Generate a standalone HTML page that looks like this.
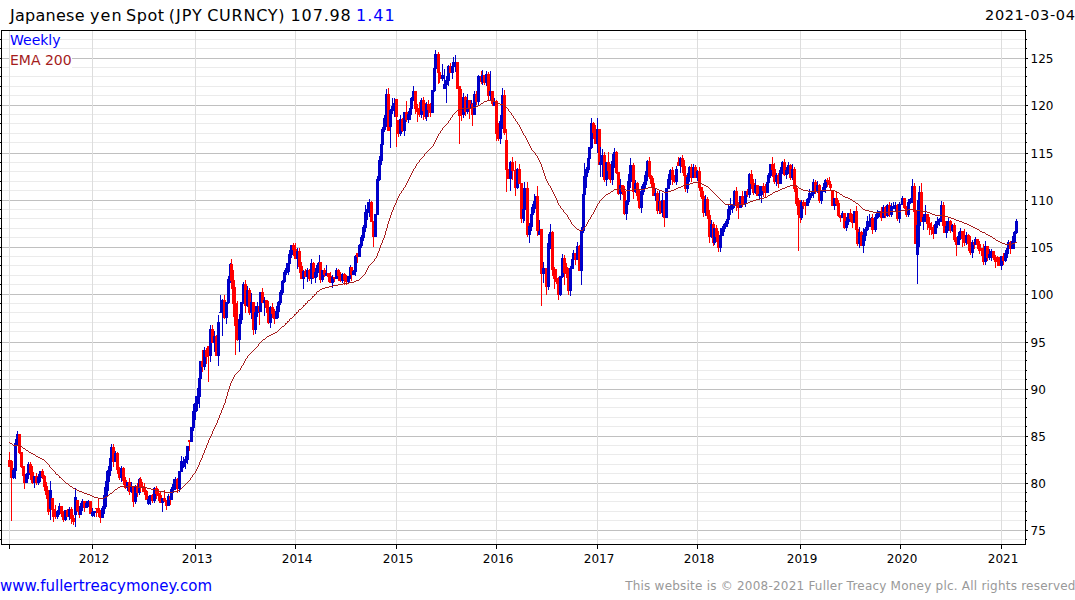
<!DOCTYPE html>
<html><head><meta charset="utf-8"><title>Japanese yen Spot (JPY CURNCY)</title>
<style>html,body{margin:0;padding:0;background:#fff;}body{width:1075px;height:600px;position:relative;overflow:hidden;}</style>
</head><body>
<svg width="1075" height="600" viewBox="0 0 1075 600" style="position:absolute;left:0;top:0"><g shape-rendering="crispEdges"><rect x="2" y="539" width="1023" height="1" fill="#ebebeb"/><rect x="2" y="530" width="1023" height="1" fill="#c0c0c0"/><rect x="2" y="520" width="1023" height="1" fill="#ebebeb"/><rect x="2" y="511" width="1023" height="1" fill="#ebebeb"/><rect x="2" y="501" width="1023" height="1" fill="#ebebeb"/><rect x="2" y="492" width="1023" height="1" fill="#ebebeb"/><rect x="2" y="483" width="1023" height="1" fill="#c0c0c0"/><rect x="2" y="473" width="1023" height="1" fill="#ebebeb"/><rect x="2" y="464" width="1023" height="1" fill="#ebebeb"/><rect x="2" y="454" width="1023" height="1" fill="#ebebeb"/><rect x="2" y="445" width="1023" height="1" fill="#ebebeb"/><rect x="2" y="436" width="1023" height="1" fill="#c0c0c0"/><rect x="2" y="426" width="1023" height="1" fill="#ebebeb"/><rect x="2" y="417" width="1023" height="1" fill="#ebebeb"/><rect x="2" y="407" width="1023" height="1" fill="#ebebeb"/><rect x="2" y="398" width="1023" height="1" fill="#ebebeb"/><rect x="2" y="389" width="1023" height="1" fill="#c0c0c0"/><rect x="2" y="379" width="1023" height="1" fill="#ebebeb"/><rect x="2" y="370" width="1023" height="1" fill="#ebebeb"/><rect x="2" y="360" width="1023" height="1" fill="#ebebeb"/><rect x="2" y="351" width="1023" height="1" fill="#ebebeb"/><rect x="2" y="342" width="1023" height="1" fill="#c0c0c0"/><rect x="2" y="331" width="1023" height="1" fill="#ebebeb"/><rect x="2" y="322" width="1023" height="1" fill="#ebebeb"/><rect x="2" y="312" width="1023" height="1" fill="#ebebeb"/><rect x="2" y="303" width="1023" height="1" fill="#ebebeb"/><rect x="2" y="294" width="1023" height="1" fill="#c0c0c0"/><rect x="2" y="284" width="1023" height="1" fill="#ebebeb"/><rect x="2" y="275" width="1023" height="1" fill="#ebebeb"/><rect x="2" y="265" width="1023" height="1" fill="#ebebeb"/><rect x="2" y="256" width="1023" height="1" fill="#ebebeb"/><rect x="2" y="247" width="1023" height="1" fill="#c0c0c0"/><rect x="2" y="237" width="1023" height="1" fill="#ebebeb"/><rect x="2" y="228" width="1023" height="1" fill="#ebebeb"/><rect x="2" y="218" width="1023" height="1" fill="#ebebeb"/><rect x="2" y="209" width="1023" height="1" fill="#ebebeb"/><rect x="2" y="200" width="1023" height="1" fill="#c0c0c0"/><rect x="2" y="190" width="1023" height="1" fill="#ebebeb"/><rect x="2" y="181" width="1023" height="1" fill="#ebebeb"/><rect x="2" y="171" width="1023" height="1" fill="#ebebeb"/><rect x="2" y="162" width="1023" height="1" fill="#ebebeb"/><rect x="2" y="153" width="1023" height="1" fill="#c0c0c0"/><rect x="2" y="142" width="1023" height="1" fill="#ebebeb"/><rect x="2" y="133" width="1023" height="1" fill="#ebebeb"/><rect x="2" y="123" width="1023" height="1" fill="#ebebeb"/><rect x="2" y="114" width="1023" height="1" fill="#ebebeb"/><rect x="2" y="105" width="1023" height="1" fill="#c0c0c0"/><rect x="2" y="95" width="1023" height="1" fill="#ebebeb"/><rect x="2" y="86" width="1023" height="1" fill="#ebebeb"/><rect x="2" y="76" width="1023" height="1" fill="#ebebeb"/><rect x="2" y="67" width="1023" height="1" fill="#ebebeb"/><rect x="2" y="58" width="1023" height="1" fill="#c0c0c0"/><rect x="2" y="48" width="1023" height="1" fill="#ebebeb"/><rect x="2" y="39" width="1023" height="1" fill="#ebebeb"/><rect x="9" y="31" width="1" height="513" fill="#dddddd"/><rect x="92" y="31" width="1" height="513" fill="#dddddd"/><rect x="195" y="31" width="1" height="513" fill="#dddddd"/><rect x="295" y="31" width="1" height="513" fill="#dddddd"/><rect x="396" y="31" width="1" height="513" fill="#dddddd"/><rect x="496" y="31" width="1" height="513" fill="#dddddd"/><rect x="597" y="31" width="1" height="513" fill="#dddddd"/><rect x="697" y="31" width="1" height="513" fill="#dddddd"/><rect x="800" y="31" width="1" height="513" fill="#dddddd"/><rect x="900" y="31" width="1" height="513" fill="#dddddd"/><rect x="1001" y="31" width="1" height="513" fill="#dddddd"/></g><rect x="10" y="31" width="50" height="16" fill="#fff"/><rect x="10" y="50" width="62" height="19" fill="#fff"/><g shape-rendering="crispEdges"><rect x="9" y="452" width="1" height="15" fill="#ff0000"/><rect x="8" y="460" width="3" height="7" fill="#ff0000"/><rect x="11" y="460" width="1" height="61" fill="#ff0000"/><rect x="10" y="461" width="3" height="17" fill="#ff0000"/><rect x="13" y="468" width="1" height="11" fill="#0000c8"/><rect x="12" y="470" width="3" height="8" fill="#0000c8"/><rect x="15" y="439" width="1" height="40" fill="#0000c8"/><rect x="14" y="443" width="3" height="28" fill="#0000c8"/><rect x="17" y="431" width="1" height="15" fill="#0000c8"/><rect x="16" y="434" width="3" height="10" fill="#0000c8"/><rect x="19" y="434" width="1" height="20" fill="#ff0000"/><rect x="18" y="434" width="3" height="19" fill="#ff0000"/><rect x="21" y="452" width="1" height="16" fill="#ff0000"/><rect x="20" y="452" width="3" height="15" fill="#ff0000"/><rect x="23" y="466" width="1" height="15" fill="#ff0000"/><rect x="22" y="466" width="3" height="10" fill="#ff0000"/><rect x="24" y="471" width="1" height="18" fill="#ff0000"/><rect x="23" y="475" width="3" height="8" fill="#ff0000"/><rect x="26" y="473" width="1" height="10" fill="#0000c8"/><rect x="25" y="474" width="3" height="9" fill="#0000c8"/><rect x="28" y="462" width="1" height="17" fill="#0000c8"/><rect x="27" y="464" width="3" height="11" fill="#0000c8"/><rect x="30" y="462" width="1" height="18" fill="#ff0000"/><rect x="29" y="464" width="3" height="9" fill="#ff0000"/><rect x="32" y="466" width="1" height="18" fill="#ff0000"/><rect x="31" y="472" width="3" height="11" fill="#ff0000"/><rect x="34" y="476" width="1" height="12" fill="#0000c8"/><rect x="33" y="476" width="3" height="7" fill="#0000c8"/><rect x="36" y="473" width="1" height="12" fill="#ff0000"/><rect x="35" y="476" width="3" height="7" fill="#ff0000"/><rect x="38" y="474" width="1" height="11" fill="#0000c8"/><rect x="37" y="477" width="3" height="6" fill="#0000c8"/><rect x="40" y="471" width="1" height="11" fill="#0000c8"/><rect x="39" y="471" width="3" height="7" fill="#0000c8"/><rect x="42" y="469" width="1" height="10" fill="#ff0000"/><rect x="41" y="471" width="3" height="6" fill="#ff0000"/><rect x="44" y="475" width="1" height="16" fill="#ff0000"/><rect x="43" y="476" width="3" height="11" fill="#ff0000"/><rect x="46" y="482" width="1" height="17" fill="#ff0000"/><rect x="45" y="486" width="3" height="9" fill="#ff0000"/><rect x="48" y="490" width="1" height="25" fill="#ff0000"/><rect x="47" y="494" width="3" height="18" fill="#ff0000"/><rect x="50" y="481" width="1" height="39" fill="#0000c8"/><rect x="49" y="490" width="3" height="19" fill="#0000c8"/><rect x="52" y="498" width="1" height="19" fill="#ff0000"/><rect x="51" y="498" width="3" height="12" fill="#ff0000"/><rect x="53" y="503" width="1" height="19" fill="#ff0000"/><rect x="52" y="509" width="3" height="4" fill="#ff0000"/><rect x="55" y="505" width="1" height="14" fill="#ff0000"/><rect x="54" y="512" width="3" height="5" fill="#ff0000"/><rect x="57" y="510" width="1" height="9" fill="#0000c8"/><rect x="56" y="511" width="3" height="6" fill="#0000c8"/><rect x="59" y="503" width="1" height="12" fill="#0000c8"/><rect x="58" y="506" width="3" height="6" fill="#0000c8"/><rect x="61" y="506" width="1" height="11" fill="#ff0000"/><rect x="60" y="506" width="3" height="8" fill="#ff0000"/><rect x="63" y="511" width="1" height="11" fill="#ff0000"/><rect x="62" y="513" width="3" height="7" fill="#ff0000"/><rect x="65" y="510" width="1" height="11" fill="#0000c8"/><rect x="64" y="510" width="3" height="10" fill="#0000c8"/><rect x="67" y="509" width="1" height="8" fill="#ff0000"/><rect x="66" y="510" width="3" height="7" fill="#ff0000"/><rect x="69" y="507" width="1" height="13" fill="#0000c8"/><rect x="68" y="509" width="3" height="8" fill="#0000c8"/><rect x="71" y="507" width="1" height="17" fill="#ff0000"/><rect x="70" y="509" width="3" height="10" fill="#ff0000"/><rect x="73" y="515" width="1" height="10" fill="#ff0000"/><rect x="72" y="518" width="3" height="4" fill="#ff0000"/><rect x="75" y="488" width="1" height="39" fill="#0000c8"/><rect x="74" y="497" width="3" height="18" fill="#0000c8"/><rect x="77" y="500" width="1" height="12" fill="#ff0000"/><rect x="76" y="500" width="3" height="11" fill="#ff0000"/><rect x="79" y="510" width="1" height="8" fill="#ff0000"/><rect x="78" y="510" width="3" height="5" fill="#ff0000"/><rect x="80" y="503" width="1" height="12" fill="#0000c8"/><rect x="79" y="506" width="3" height="9" fill="#0000c8"/><rect x="82" y="499" width="1" height="12" fill="#0000c8"/><rect x="81" y="501" width="3" height="6" fill="#0000c8"/><rect x="84" y="501" width="1" height="11" fill="#ff0000"/><rect x="83" y="501" width="3" height="7" fill="#ff0000"/><rect x="86" y="501" width="1" height="7" fill="#0000c8"/><rect x="85" y="503" width="3" height="5" fill="#0000c8"/><rect x="88" y="500" width="1" height="7" fill="#0000c8"/><rect x="87" y="501" width="3" height="3" fill="#0000c8"/><rect x="90" y="501" width="1" height="13" fill="#ff0000"/><rect x="89" y="501" width="3" height="13" fill="#ff0000"/><rect x="92" y="508" width="1" height="9" fill="#0000c8"/><rect x="91" y="512" width="3" height="4" fill="#0000c8"/><rect x="94" y="511" width="1" height="6" fill="#0000c8"/><rect x="93" y="511" width="3" height="2" fill="#0000c8"/><rect x="96" y="508" width="1" height="9" fill="#ff0000"/><rect x="95" y="508" width="3" height="1" fill="#ff0000"/><rect x="98" y="499" width="1" height="18" fill="#ff0000"/><rect x="97" y="508" width="3" height="5" fill="#ff0000"/><rect x="100" y="510" width="1" height="13" fill="#ff0000"/><rect x="99" y="512" width="3" height="6" fill="#ff0000"/><rect x="102" y="506" width="1" height="12" fill="#0000c8"/><rect x="101" y="508" width="3" height="10" fill="#0000c8"/><rect x="104" y="487" width="1" height="27" fill="#0000c8"/><rect x="103" y="495" width="3" height="14" fill="#0000c8"/><rect x="106" y="471" width="1" height="36" fill="#0000c8"/><rect x="105" y="481" width="3" height="15" fill="#0000c8"/><rect x="108" y="466" width="1" height="25" fill="#0000c8"/><rect x="107" y="470" width="3" height="12" fill="#0000c8"/><rect x="110" y="451" width="1" height="25" fill="#0000c8"/><rect x="109" y="458" width="3" height="13" fill="#0000c8"/><rect x="111" y="444" width="1" height="23" fill="#0000c8"/><rect x="110" y="447" width="3" height="12" fill="#0000c8"/><rect x="113" y="444" width="1" height="23" fill="#ff0000"/><rect x="112" y="447" width="3" height="15" fill="#ff0000"/><rect x="115" y="451" width="1" height="11" fill="#0000c8"/><rect x="114" y="453" width="3" height="9" fill="#0000c8"/><rect x="117" y="452" width="1" height="22" fill="#ff0000"/><rect x="116" y="453" width="3" height="17" fill="#ff0000"/><rect x="119" y="467" width="1" height="13" fill="#ff0000"/><rect x="118" y="469" width="3" height="9" fill="#ff0000"/><rect x="121" y="466" width="1" height="16" fill="#0000c8"/><rect x="120" y="468" width="3" height="10" fill="#0000c8"/><rect x="123" y="467" width="1" height="18" fill="#ff0000"/><rect x="122" y="468" width="3" height="13" fill="#ff0000"/><rect x="125" y="477" width="1" height="12" fill="#ff0000"/><rect x="124" y="480" width="3" height="8" fill="#ff0000"/><rect x="127" y="482" width="1" height="9" fill="#0000c8"/><rect x="126" y="482" width="3" height="6" fill="#0000c8"/><rect x="129" y="478" width="1" height="17" fill="#ff0000"/><rect x="128" y="482" width="3" height="10" fill="#ff0000"/><rect x="131" y="482" width="1" height="11" fill="#0000c8"/><rect x="130" y="486" width="3" height="6" fill="#0000c8"/><rect x="133" y="486" width="1" height="21" fill="#ff0000"/><rect x="132" y="486" width="3" height="16" fill="#ff0000"/><rect x="135" y="485" width="1" height="19" fill="#0000c8"/><rect x="134" y="486" width="3" height="16" fill="#0000c8"/><rect x="137" y="483" width="1" height="14" fill="#ff0000"/><rect x="136" y="486" width="3" height="7" fill="#ff0000"/><rect x="139" y="478" width="1" height="17" fill="#0000c8"/><rect x="138" y="479" width="3" height="14" fill="#0000c8"/><rect x="140" y="477" width="1" height="15" fill="#ff0000"/><rect x="139" y="479" width="3" height="8" fill="#ff0000"/><rect x="142" y="482" width="1" height="10" fill="#ff0000"/><rect x="141" y="486" width="3" height="2" fill="#ff0000"/><rect x="144" y="483" width="1" height="12" fill="#ff0000"/><rect x="143" y="487" width="3" height="5" fill="#ff0000"/><rect x="146" y="490" width="1" height="10" fill="#ff0000"/><rect x="145" y="491" width="3" height="9" fill="#ff0000"/><rect x="148" y="496" width="1" height="9" fill="#0000c8"/><rect x="147" y="499" width="3" height="5" fill="#0000c8"/><rect x="150" y="495" width="1" height="10" fill="#0000c8"/><rect x="149" y="495" width="3" height="5" fill="#0000c8"/><rect x="152" y="494" width="1" height="9" fill="#ff0000"/><rect x="151" y="495" width="3" height="6" fill="#ff0000"/><rect x="154" y="487" width="1" height="16" fill="#0000c8"/><rect x="153" y="488" width="3" height="13" fill="#0000c8"/><rect x="156" y="486" width="1" height="13" fill="#ff0000"/><rect x="155" y="488" width="3" height="6" fill="#ff0000"/><rect x="158" y="489" width="1" height="12" fill="#ff0000"/><rect x="157" y="493" width="3" height="3" fill="#ff0000"/><rect x="160" y="492" width="1" height="11" fill="#ff0000"/><rect x="159" y="495" width="3" height="8" fill="#ff0000"/><rect x="162" y="498" width="1" height="14" fill="#0000c8"/><rect x="161" y="498" width="3" height="5" fill="#0000c8"/><rect x="164" y="490" width="1" height="12" fill="#ff0000"/><rect x="163" y="498" width="3" height="3" fill="#ff0000"/><rect x="166" y="500" width="1" height="10" fill="#ff0000"/><rect x="165" y="500" width="3" height="6" fill="#ff0000"/><rect x="168" y="494" width="1" height="12" fill="#0000c8"/><rect x="167" y="496" width="3" height="10" fill="#0000c8"/><rect x="170" y="495" width="1" height="10" fill="#ff0000"/><rect x="169" y="496" width="3" height="4" fill="#ff0000"/><rect x="171" y="487" width="1" height="13" fill="#0000c8"/><rect x="170" y="489" width="3" height="11" fill="#0000c8"/><rect x="173" y="479" width="1" height="14" fill="#0000c8"/><rect x="172" y="484" width="3" height="6" fill="#0000c8"/><rect x="175" y="477" width="1" height="13" fill="#0000c8"/><rect x="174" y="479" width="3" height="6" fill="#0000c8"/><rect x="177" y="478" width="1" height="15" fill="#ff0000"/><rect x="176" y="479" width="3" height="10" fill="#ff0000"/><rect x="179" y="471" width="1" height="21" fill="#0000c8"/><rect x="178" y="471" width="3" height="18" fill="#0000c8"/><rect x="181" y="456" width="1" height="16" fill="#0000c8"/><rect x="180" y="461" width="3" height="11" fill="#0000c8"/><rect x="183" y="457" width="1" height="11" fill="#0000c8"/><rect x="182" y="462" width="3" height="5" fill="#0000c8"/><rect x="185" y="456" width="1" height="13" fill="#0000c8"/><rect x="184" y="459" width="3" height="4" fill="#0000c8"/><rect x="187" y="446" width="1" height="18" fill="#0000c8"/><rect x="186" y="446" width="3" height="14" fill="#0000c8"/><rect x="189" y="440" width="1" height="11" fill="#ff0000"/><rect x="188" y="440" width="3" height="2" fill="#ff0000"/><rect x="191" y="427" width="1" height="15" fill="#0000c8"/><rect x="190" y="427" width="3" height="15" fill="#0000c8"/><rect x="193" y="404" width="1" height="27" fill="#0000c8"/><rect x="192" y="411" width="3" height="17" fill="#0000c8"/><rect x="195" y="396" width="1" height="24" fill="#0000c8"/><rect x="194" y="403" width="3" height="9" fill="#0000c8"/><rect x="197" y="388" width="1" height="23" fill="#0000c8"/><rect x="196" y="396" width="3" height="8" fill="#0000c8"/><rect x="199" y="377" width="1" height="31" fill="#0000c8"/><rect x="198" y="378" width="3" height="19" fill="#0000c8"/><rect x="200" y="361" width="1" height="18" fill="#0000c8"/><rect x="199" y="361" width="3" height="18" fill="#0000c8"/><rect x="202" y="350" width="1" height="22" fill="#ff0000"/><rect x="201" y="361" width="3" height="6" fill="#ff0000"/><rect x="204" y="347" width="1" height="23" fill="#0000c8"/><rect x="203" y="350" width="3" height="17" fill="#0000c8"/><rect x="206" y="348" width="1" height="16" fill="#ff0000"/><rect x="205" y="350" width="3" height="7" fill="#ff0000"/><rect x="208" y="346" width="1" height="36" fill="#ff0000"/><rect x="207" y="346" width="3" height="10" fill="#ff0000"/><rect x="210" y="325" width="1" height="37" fill="#0000c8"/><rect x="209" y="329" width="3" height="27" fill="#0000c8"/><rect x="212" y="325" width="1" height="18" fill="#ff0000"/><rect x="211" y="329" width="3" height="14" fill="#ff0000"/><rect x="214" y="331" width="1" height="21" fill="#0000c8"/><rect x="213" y="336" width="3" height="7" fill="#0000c8"/><rect x="216" y="335" width="1" height="21" fill="#ff0000"/><rect x="215" y="336" width="3" height="20" fill="#ff0000"/><rect x="218" y="315" width="1" height="51" fill="#0000c8"/><rect x="217" y="322" width="3" height="34" fill="#0000c8"/><rect x="220" y="295" width="1" height="18" fill="#0000c8"/><rect x="219" y="312" width="3" height="1" fill="#0000c8"/><rect x="222" y="299" width="1" height="37" fill="#0000c8"/><rect x="221" y="300" width="3" height="13" fill="#0000c8"/><rect x="224" y="295" width="1" height="24" fill="#ff0000"/><rect x="223" y="300" width="3" height="18" fill="#ff0000"/><rect x="226" y="302" width="1" height="22" fill="#0000c8"/><rect x="225" y="302" width="3" height="16" fill="#0000c8"/><rect x="228" y="276" width="1" height="28" fill="#0000c8"/><rect x="227" y="279" width="3" height="24" fill="#0000c8"/><rect x="230" y="263" width="1" height="20" fill="#0000c8"/><rect x="229" y="264" width="3" height="16" fill="#0000c8"/><rect x="231" y="259" width="1" height="30" fill="#ff0000"/><rect x="230" y="264" width="3" height="17" fill="#ff0000"/><rect x="233" y="270" width="1" height="47" fill="#ff0000"/><rect x="232" y="280" width="3" height="24" fill="#ff0000"/><rect x="235" y="287" width="1" height="68" fill="#ff0000"/><rect x="234" y="303" width="3" height="23" fill="#ff0000"/><rect x="237" y="301" width="1" height="40" fill="#ff0000"/><rect x="236" y="325" width="3" height="15" fill="#ff0000"/><rect x="239" y="314" width="1" height="38" fill="#0000c8"/><rect x="238" y="319" width="3" height="21" fill="#0000c8"/><rect x="241" y="302" width="1" height="22" fill="#0000c8"/><rect x="240" y="302" width="3" height="18" fill="#0000c8"/><rect x="243" y="282" width="1" height="22" fill="#0000c8"/><rect x="242" y="284" width="3" height="19" fill="#0000c8"/><rect x="245" y="280" width="1" height="33" fill="#ff0000"/><rect x="244" y="284" width="3" height="22" fill="#ff0000"/><rect x="247" y="286" width="1" height="21" fill="#0000c8"/><rect x="246" y="290" width="3" height="16" fill="#0000c8"/><rect x="249" y="288" width="1" height="27" fill="#ff0000"/><rect x="248" y="290" width="3" height="23" fill="#ff0000"/><rect x="251" y="293" width="1" height="26" fill="#0000c8"/><rect x="250" y="302" width="3" height="11" fill="#0000c8"/><rect x="253" y="302" width="1" height="33" fill="#ff0000"/><rect x="252" y="302" width="3" height="28" fill="#ff0000"/><rect x="255" y="306" width="1" height="28" fill="#0000c8"/><rect x="254" y="312" width="3" height="18" fill="#0000c8"/><rect x="257" y="302" width="1" height="15" fill="#0000c8"/><rect x="256" y="306" width="3" height="7" fill="#0000c8"/><rect x="259" y="305" width="1" height="20" fill="#ff0000"/><rect x="258" y="306" width="3" height="6" fill="#ff0000"/><rect x="260" y="292" width="1" height="20" fill="#0000c8"/><rect x="259" y="292" width="3" height="20" fill="#0000c8"/><rect x="262" y="288" width="1" height="15" fill="#ff0000"/><rect x="261" y="292" width="3" height="11" fill="#ff0000"/><rect x="264" y="297" width="1" height="19" fill="#0000c8"/><rect x="263" y="300" width="3" height="3" fill="#0000c8"/><rect x="266" y="300" width="1" height="13" fill="#ff0000"/><rect x="265" y="300" width="3" height="8" fill="#ff0000"/><rect x="268" y="301" width="1" height="23" fill="#ff0000"/><rect x="267" y="307" width="3" height="16" fill="#ff0000"/><rect x="270" y="306" width="1" height="22" fill="#0000c8"/><rect x="269" y="307" width="3" height="16" fill="#0000c8"/><rect x="272" y="303" width="1" height="15" fill="#ff0000"/><rect x="271" y="307" width="3" height="7" fill="#ff0000"/><rect x="274" y="309" width="1" height="15" fill="#ff0000"/><rect x="273" y="313" width="3" height="6" fill="#ff0000"/><rect x="276" y="306" width="1" height="13" fill="#0000c8"/><rect x="275" y="311" width="3" height="8" fill="#0000c8"/><rect x="278" y="301" width="1" height="17" fill="#0000c8"/><rect x="277" y="302" width="3" height="10" fill="#0000c8"/><rect x="280" y="290" width="1" height="15" fill="#0000c8"/><rect x="279" y="292" width="3" height="11" fill="#0000c8"/><rect x="282" y="280" width="1" height="15" fill="#0000c8"/><rect x="281" y="281" width="3" height="12" fill="#0000c8"/><rect x="284" y="270" width="1" height="13" fill="#0000c8"/><rect x="283" y="272" width="3" height="10" fill="#0000c8"/><rect x="286" y="263" width="1" height="12" fill="#0000c8"/><rect x="285" y="268" width="3" height="5" fill="#0000c8"/><rect x="288" y="257" width="1" height="18" fill="#0000c8"/><rect x="287" y="263" width="3" height="6" fill="#0000c8"/><rect x="289" y="250" width="1" height="22" fill="#0000c8"/><rect x="288" y="254" width="3" height="10" fill="#0000c8"/><rect x="291" y="245" width="1" height="13" fill="#0000c8"/><rect x="290" y="245" width="3" height="10" fill="#0000c8"/><rect x="293" y="243" width="1" height="13" fill="#ff0000"/><rect x="292" y="245" width="3" height="5" fill="#ff0000"/><rect x="295" y="243" width="1" height="16" fill="#ff0000"/><rect x="294" y="249" width="3" height="10" fill="#ff0000"/><rect x="297" y="248" width="1" height="21" fill="#0000c8"/><rect x="296" y="251" width="3" height="8" fill="#0000c8"/><rect x="299" y="248" width="1" height="25" fill="#ff0000"/><rect x="298" y="251" width="3" height="16" fill="#ff0000"/><rect x="301" y="262" width="1" height="17" fill="#ff0000"/><rect x="300" y="266" width="3" height="13" fill="#ff0000"/><rect x="303" y="270" width="1" height="19" fill="#0000c8"/><rect x="302" y="271" width="3" height="8" fill="#0000c8"/><rect x="305" y="269" width="1" height="8" fill="#ff0000"/><rect x="304" y="271" width="3" height="6" fill="#ff0000"/><rect x="307" y="268" width="1" height="14" fill="#0000c8"/><rect x="306" y="270" width="3" height="7" fill="#0000c8"/><rect x="309" y="269" width="1" height="12" fill="#ff0000"/><rect x="308" y="270" width="3" height="9" fill="#ff0000"/><rect x="311" y="259" width="1" height="25" fill="#0000c8"/><rect x="310" y="263" width="3" height="16" fill="#0000c8"/><rect x="313" y="262" width="1" height="17" fill="#ff0000"/><rect x="312" y="263" width="3" height="15" fill="#ff0000"/><rect x="315" y="268" width="1" height="15" fill="#0000c8"/><rect x="314" y="272" width="3" height="6" fill="#0000c8"/><rect x="317" y="263" width="1" height="14" fill="#0000c8"/><rect x="316" y="265" width="3" height="8" fill="#0000c8"/><rect x="319" y="255" width="1" height="14" fill="#0000c8"/><rect x="318" y="262" width="3" height="4" fill="#0000c8"/><rect x="320" y="262" width="1" height="21" fill="#ff0000"/><rect x="319" y="262" width="3" height="18" fill="#ff0000"/><rect x="322" y="270" width="1" height="12" fill="#0000c8"/><rect x="321" y="270" width="3" height="10" fill="#0000c8"/><rect x="324" y="268" width="1" height="9" fill="#ff0000"/><rect x="323" y="270" width="3" height="5" fill="#ff0000"/><rect x="326" y="265" width="1" height="11" fill="#0000c8"/><rect x="325" y="273" width="3" height="3" fill="#0000c8"/><rect x="328" y="273" width="1" height="9" fill="#ff0000"/><rect x="327" y="273" width="3" height="4" fill="#ff0000"/><rect x="330" y="272" width="1" height="11" fill="#ff0000"/><rect x="329" y="276" width="3" height="7" fill="#ff0000"/><rect x="332" y="275" width="1" height="13" fill="#0000c8"/><rect x="331" y="277" width="3" height="6" fill="#0000c8"/><rect x="334" y="277" width="1" height="5" fill="#ff0000"/><rect x="333" y="277" width="3" height="2" fill="#ff0000"/><rect x="336" y="268" width="1" height="11" fill="#0000c8"/><rect x="335" y="270" width="3" height="9" fill="#0000c8"/><rect x="338" y="269" width="1" height="12" fill="#ff0000"/><rect x="337" y="270" width="3" height="6" fill="#ff0000"/><rect x="340" y="272" width="1" height="10" fill="#ff0000"/><rect x="339" y="275" width="3" height="6" fill="#ff0000"/><rect x="342" y="273" width="1" height="10" fill="#0000c8"/><rect x="341" y="274" width="3" height="7" fill="#0000c8"/><rect x="344" y="273" width="1" height="12" fill="#ff0000"/><rect x="343" y="274" width="3" height="6" fill="#ff0000"/><rect x="346" y="275" width="1" height="10" fill="#ff0000"/><rect x="345" y="279" width="3" height="3" fill="#ff0000"/><rect x="348" y="276" width="1" height="7" fill="#0000c8"/><rect x="347" y="276" width="3" height="6" fill="#0000c8"/><rect x="350" y="265" width="1" height="14" fill="#0000c8"/><rect x="349" y="267" width="3" height="10" fill="#0000c8"/><rect x="351" y="267" width="1" height="14" fill="#ff0000"/><rect x="350" y="267" width="3" height="8" fill="#ff0000"/><rect x="353" y="270" width="1" height="5" fill="#0000c8"/><rect x="352" y="271" width="3" height="4" fill="#0000c8"/><rect x="355" y="255" width="1" height="21" fill="#0000c8"/><rect x="354" y="256" width="3" height="16" fill="#0000c8"/><rect x="357" y="253" width="1" height="10" fill="#ff0000"/><rect x="356" y="253" width="3" height="4" fill="#ff0000"/><rect x="359" y="244" width="1" height="13" fill="#0000c8"/><rect x="358" y="245" width="3" height="12" fill="#0000c8"/><rect x="361" y="235" width="1" height="13" fill="#0000c8"/><rect x="360" y="237" width="3" height="9" fill="#0000c8"/><rect x="363" y="225" width="1" height="16" fill="#0000c8"/><rect x="362" y="227" width="3" height="11" fill="#0000c8"/><rect x="365" y="205" width="1" height="27" fill="#0000c8"/><rect x="364" y="212" width="3" height="16" fill="#0000c8"/><rect x="367" y="202" width="1" height="18" fill="#0000c8"/><rect x="366" y="209" width="3" height="4" fill="#0000c8"/><rect x="369" y="199" width="1" height="18" fill="#0000c8"/><rect x="368" y="202" width="3" height="8" fill="#0000c8"/><rect x="371" y="201" width="1" height="21" fill="#ff0000"/><rect x="370" y="202" width="3" height="20" fill="#ff0000"/><rect x="373" y="221" width="1" height="26" fill="#ff0000"/><rect x="372" y="221" width="3" height="16" fill="#ff0000"/><rect x="375" y="214" width="1" height="23" fill="#0000c8"/><rect x="374" y="214" width="3" height="23" fill="#0000c8"/><rect x="377" y="176" width="1" height="39" fill="#0000c8"/><rect x="376" y="179" width="3" height="36" fill="#0000c8"/><rect x="379" y="156" width="1" height="25" fill="#0000c8"/><rect x="378" y="160" width="3" height="20" fill="#0000c8"/><rect x="381" y="140" width="1" height="25" fill="#0000c8"/><rect x="380" y="144" width="3" height="17" fill="#0000c8"/><rect x="382" y="127" width="1" height="22" fill="#0000c8"/><rect x="381" y="129" width="3" height="16" fill="#0000c8"/><rect x="384" y="115" width="1" height="17" fill="#0000c8"/><rect x="383" y="118" width="3" height="12" fill="#0000c8"/><rect x="386" y="89" width="1" height="38" fill="#0000c8"/><rect x="385" y="94" width="3" height="25" fill="#0000c8"/><rect x="388" y="88" width="1" height="43" fill="#ff0000"/><rect x="387" y="94" width="3" height="37" fill="#ff0000"/><rect x="390" y="109" width="1" height="39" fill="#0000c8"/><rect x="389" y="110" width="3" height="17" fill="#0000c8"/><rect x="392" y="98" width="1" height="16" fill="#0000c8"/><rect x="391" y="106" width="3" height="5" fill="#0000c8"/><rect x="394" y="98" width="1" height="19" fill="#0000c8"/><rect x="393" y="103" width="3" height="4" fill="#0000c8"/><rect x="396" y="99" width="1" height="48" fill="#ff0000"/><rect x="395" y="99" width="3" height="18" fill="#ff0000"/><rect x="398" y="120" width="1" height="17" fill="#ff0000"/><rect x="397" y="120" width="3" height="14" fill="#ff0000"/><rect x="400" y="115" width="1" height="21" fill="#0000c8"/><rect x="399" y="119" width="3" height="15" fill="#0000c8"/><rect x="402" y="118" width="1" height="14" fill="#ff0000"/><rect x="401" y="119" width="3" height="12" fill="#ff0000"/><rect x="404" y="112" width="1" height="24" fill="#0000c8"/><rect x="403" y="112" width="3" height="19" fill="#0000c8"/><rect x="406" y="101" width="1" height="21" fill="#ff0000"/><rect x="405" y="112" width="3" height="8" fill="#ff0000"/><rect x="408" y="111" width="1" height="12" fill="#0000c8"/><rect x="407" y="114" width="3" height="6" fill="#0000c8"/><rect x="410" y="107" width="1" height="13" fill="#0000c8"/><rect x="409" y="108" width="3" height="7" fill="#0000c8"/><rect x="411" y="97" width="1" height="13" fill="#0000c8"/><rect x="410" y="98" width="3" height="11" fill="#0000c8"/><rect x="413" y="86" width="1" height="15" fill="#0000c8"/><rect x="412" y="91" width="3" height="8" fill="#0000c8"/><rect x="415" y="91" width="1" height="23" fill="#ff0000"/><rect x="414" y="91" width="3" height="18" fill="#ff0000"/><rect x="417" y="104" width="1" height="18" fill="#ff0000"/><rect x="416" y="108" width="3" height="4" fill="#ff0000"/><rect x="419" y="102" width="1" height="15" fill="#ff0000"/><rect x="418" y="111" width="3" height="4" fill="#ff0000"/><rect x="421" y="98" width="1" height="20" fill="#0000c8"/><rect x="420" y="100" width="3" height="15" fill="#0000c8"/><rect x="423" y="97" width="1" height="23" fill="#ff0000"/><rect x="422" y="100" width="3" height="11" fill="#ff0000"/><rect x="425" y="103" width="1" height="16" fill="#ff0000"/><rect x="424" y="110" width="3" height="7" fill="#ff0000"/><rect x="426" y="102" width="1" height="19" fill="#0000c8"/><rect x="425" y="104" width="3" height="13" fill="#0000c8"/><rect x="428" y="100" width="1" height="17" fill="#ff0000"/><rect x="427" y="104" width="3" height="6" fill="#ff0000"/><rect x="430" y="103" width="1" height="14" fill="#ff0000"/><rect x="429" y="109" width="3" height="4" fill="#ff0000"/><rect x="432" y="90" width="1" height="23" fill="#0000c8"/><rect x="431" y="90" width="3" height="23" fill="#0000c8"/><rect x="434" y="66" width="1" height="26" fill="#0000c8"/><rect x="433" y="68" width="3" height="23" fill="#0000c8"/><rect x="435" y="50" width="1" height="21" fill="#0000c8"/><rect x="434" y="54" width="3" height="15" fill="#0000c8"/><rect x="438" y="52" width="1" height="32" fill="#ff0000"/><rect x="437" y="54" width="3" height="19" fill="#ff0000"/><rect x="439" y="63" width="1" height="20" fill="#ff0000"/><rect x="438" y="72" width="3" height="7" fill="#ff0000"/><rect x="442" y="64" width="1" height="17" fill="#0000c8"/><rect x="441" y="75" width="3" height="4" fill="#0000c8"/><rect x="444" y="69" width="1" height="20" fill="#0000c8"/><rect x="443" y="84" width="3" height="5" fill="#0000c8"/><rect x="446" y="76" width="1" height="27" fill="#0000c8"/><rect x="445" y="80" width="3" height="5" fill="#0000c8"/><rect x="448" y="65" width="1" height="21" fill="#0000c8"/><rect x="447" y="66" width="3" height="15" fill="#0000c8"/><rect x="450" y="63" width="1" height="10" fill="#ff0000"/><rect x="449" y="66" width="3" height="7" fill="#ff0000"/><rect x="452" y="62" width="1" height="17" fill="#0000c8"/><rect x="451" y="66" width="3" height="7" fill="#0000c8"/><rect x="453" y="57" width="1" height="14" fill="#0000c8"/><rect x="452" y="63" width="3" height="4" fill="#0000c8"/><rect x="455" y="55" width="1" height="17" fill="#0000c8"/><rect x="454" y="62" width="3" height="2" fill="#0000c8"/><rect x="457" y="62" width="1" height="27" fill="#ff0000"/><rect x="456" y="62" width="3" height="27" fill="#ff0000"/><rect x="459" y="86" width="1" height="58" fill="#ff0000"/><rect x="458" y="86" width="3" height="30" fill="#ff0000"/><rect x="461" y="89" width="1" height="32" fill="#ff0000"/><rect x="460" y="101" width="3" height="14" fill="#ff0000"/><rect x="463" y="93" width="1" height="25" fill="#0000c8"/><rect x="462" y="97" width="3" height="18" fill="#0000c8"/><rect x="465" y="96" width="1" height="20" fill="#ff0000"/><rect x="464" y="97" width="3" height="15" fill="#ff0000"/><rect x="467" y="94" width="1" height="20" fill="#0000c8"/><rect x="466" y="100" width="3" height="12" fill="#0000c8"/><rect x="469" y="100" width="1" height="19" fill="#ff0000"/><rect x="468" y="100" width="3" height="9" fill="#ff0000"/><rect x="471" y="100" width="1" height="9" fill="#0000c8"/><rect x="470" y="104" width="3" height="5" fill="#0000c8"/><rect x="472" y="103" width="1" height="23" fill="#ff0000"/><rect x="471" y="104" width="3" height="11" fill="#ff0000"/><rect x="474" y="91" width="1" height="24" fill="#0000c8"/><rect x="473" y="94" width="3" height="21" fill="#0000c8"/><rect x="476" y="91" width="1" height="14" fill="#ff0000"/><rect x="475" y="94" width="3" height="8" fill="#ff0000"/><rect x="478" y="75" width="1" height="30" fill="#0000c8"/><rect x="477" y="76" width="3" height="26" fill="#0000c8"/><rect x="481" y="71" width="1" height="13" fill="#ff0000"/><rect x="480" y="76" width="3" height="6" fill="#ff0000"/><rect x="482" y="70" width="1" height="15" fill="#0000c8"/><rect x="481" y="75" width="3" height="7" fill="#0000c8"/><rect x="484" y="75" width="1" height="10" fill="#ff0000"/><rect x="483" y="75" width="3" height="8" fill="#ff0000"/><rect x="486" y="71" width="1" height="15" fill="#0000c8"/><rect x="485" y="74" width="3" height="9" fill="#0000c8"/><rect x="488" y="72" width="1" height="29" fill="#ff0000"/><rect x="487" y="74" width="3" height="22" fill="#ff0000"/><rect x="490" y="71" width="1" height="30" fill="#0000c8"/><rect x="489" y="91" width="3" height="5" fill="#0000c8"/><rect x="492" y="91" width="1" height="15" fill="#ff0000"/><rect x="491" y="91" width="3" height="13" fill="#ff0000"/><rect x="494" y="98" width="1" height="8" fill="#0000c8"/><rect x="493" y="102" width="3" height="4" fill="#0000c8"/><rect x="496" y="100" width="1" height="41" fill="#ff0000"/><rect x="495" y="101" width="3" height="33" fill="#ff0000"/><rect x="498" y="123" width="1" height="18" fill="#ff0000"/><rect x="497" y="133" width="3" height="6" fill="#ff0000"/><rect x="500" y="115" width="1" height="29" fill="#0000c8"/><rect x="499" y="121" width="3" height="18" fill="#0000c8"/><rect x="502" y="88" width="1" height="41" fill="#0000c8"/><rect x="501" y="95" width="3" height="27" fill="#0000c8"/><rect x="504" y="90" width="1" height="45" fill="#ff0000"/><rect x="503" y="95" width="3" height="38" fill="#ff0000"/><rect x="506" y="129" width="1" height="63" fill="#ff0000"/><rect x="505" y="140" width="3" height="30" fill="#ff0000"/><rect x="507" y="154" width="1" height="25" fill="#ff0000"/><rect x="506" y="169" width="3" height="10" fill="#ff0000"/><rect x="510" y="161" width="1" height="30" fill="#0000c8"/><rect x="509" y="162" width="3" height="17" fill="#0000c8"/><rect x="512" y="157" width="1" height="23" fill="#ff0000"/><rect x="511" y="162" width="3" height="9" fill="#ff0000"/><rect x="515" y="161" width="1" height="35" fill="#ff0000"/><rect x="514" y="170" width="3" height="18" fill="#ff0000"/><rect x="517" y="168" width="1" height="21" fill="#0000c8"/><rect x="516" y="169" width="3" height="19" fill="#0000c8"/><rect x="519" y="164" width="1" height="20" fill="#ff0000"/><rect x="518" y="169" width="3" height="15" fill="#ff0000"/><rect x="521" y="183" width="1" height="40" fill="#ff0000"/><rect x="520" y="183" width="3" height="36" fill="#ff0000"/><rect x="523" y="202" width="1" height="21" fill="#0000c8"/><rect x="522" y="209" width="3" height="10" fill="#0000c8"/><rect x="524" y="182" width="1" height="39" fill="#0000c8"/><rect x="523" y="188" width="3" height="22" fill="#0000c8"/><rect x="527" y="182" width="1" height="55" fill="#ff0000"/><rect x="526" y="188" width="3" height="47" fill="#ff0000"/><rect x="529" y="223" width="1" height="20" fill="#0000c8"/><rect x="528" y="226" width="3" height="9" fill="#0000c8"/><rect x="531" y="213" width="1" height="18" fill="#0000c8"/><rect x="530" y="214" width="3" height="13" fill="#0000c8"/><rect x="532" y="204" width="1" height="12" fill="#0000c8"/><rect x="531" y="207" width="3" height="8" fill="#0000c8"/><rect x="534" y="194" width="1" height="19" fill="#0000c8"/><rect x="533" y="201" width="3" height="7" fill="#0000c8"/><rect x="535" y="196" width="1" height="13" fill="#0000c8"/><rect x="534" y="196" width="3" height="6" fill="#0000c8"/><rect x="537" y="186" width="1" height="50" fill="#ff0000"/><rect x="536" y="196" width="3" height="35" fill="#ff0000"/><rect x="539" y="220" width="1" height="15" fill="#0000c8"/><rect x="538" y="231" width="3" height="4" fill="#0000c8"/><rect x="541" y="229" width="1" height="77" fill="#ff0000"/><rect x="540" y="229" width="3" height="45" fill="#ff0000"/><rect x="543" y="262" width="1" height="21" fill="#0000c8"/><rect x="542" y="268" width="3" height="6" fill="#0000c8"/><rect x="546" y="268" width="1" height="27" fill="#ff0000"/><rect x="545" y="268" width="3" height="19" fill="#ff0000"/><rect x="548" y="234" width="1" height="56" fill="#0000c8"/><rect x="547" y="243" width="3" height="44" fill="#0000c8"/><rect x="550" y="224" width="1" height="25" fill="#0000c8"/><rect x="549" y="232" width="3" height="12" fill="#0000c8"/><rect x="552" y="231" width="1" height="45" fill="#ff0000"/><rect x="551" y="232" width="3" height="38" fill="#ff0000"/><rect x="554" y="267" width="1" height="22" fill="#ff0000"/><rect x="553" y="269" width="3" height="10" fill="#ff0000"/><rect x="556" y="269" width="1" height="15" fill="#ff0000"/><rect x="555" y="278" width="3" height="4" fill="#ff0000"/><rect x="558" y="277" width="1" height="23" fill="#ff0000"/><rect x="557" y="281" width="3" height="14" fill="#ff0000"/><rect x="560" y="276" width="1" height="20" fill="#0000c8"/><rect x="559" y="276" width="3" height="19" fill="#0000c8"/><rect x="562" y="254" width="1" height="24" fill="#0000c8"/><rect x="561" y="258" width="3" height="19" fill="#0000c8"/><rect x="564" y="255" width="1" height="30" fill="#ff0000"/><rect x="563" y="258" width="3" height="15" fill="#ff0000"/><rect x="566" y="263" width="1" height="15" fill="#ff0000"/><rect x="565" y="267" width="3" height="7" fill="#ff0000"/><rect x="568" y="268" width="1" height="27" fill="#ff0000"/><rect x="567" y="273" width="3" height="18" fill="#ff0000"/><rect x="570" y="266" width="1" height="30" fill="#0000c8"/><rect x="569" y="268" width="3" height="23" fill="#0000c8"/><rect x="572" y="255" width="1" height="14" fill="#0000c8"/><rect x="571" y="259" width="3" height="10" fill="#0000c8"/><rect x="573" y="250" width="1" height="14" fill="#0000c8"/><rect x="572" y="253" width="3" height="7" fill="#0000c8"/><rect x="575" y="253" width="1" height="12" fill="#ff0000"/><rect x="574" y="253" width="3" height="7" fill="#ff0000"/><rect x="577" y="242" width="1" height="18" fill="#0000c8"/><rect x="576" y="246" width="3" height="14" fill="#0000c8"/><rect x="579" y="245" width="1" height="26" fill="#ff0000"/><rect x="578" y="246" width="3" height="25" fill="#ff0000"/><rect x="581" y="227" width="1" height="58" fill="#0000c8"/><rect x="580" y="230" width="3" height="41" fill="#0000c8"/><rect x="583" y="191" width="1" height="42" fill="#0000c8"/><rect x="582" y="194" width="3" height="37" fill="#0000c8"/><rect x="584" y="163" width="1" height="35" fill="#0000c8"/><rect x="583" y="176" width="3" height="19" fill="#0000c8"/><rect x="586" y="167" width="1" height="21" fill="#0000c8"/><rect x="585" y="169" width="3" height="8" fill="#0000c8"/><rect x="588" y="149" width="1" height="24" fill="#0000c8"/><rect x="587" y="158" width="3" height="12" fill="#0000c8"/><rect x="589" y="147" width="1" height="22" fill="#0000c8"/><rect x="588" y="147" width="3" height="12" fill="#0000c8"/><rect x="591" y="118" width="1" height="31" fill="#0000c8"/><rect x="590" y="123" width="3" height="25" fill="#0000c8"/><rect x="593" y="122" width="1" height="17" fill="#ff0000"/><rect x="592" y="123" width="3" height="10" fill="#ff0000"/><rect x="595" y="125" width="1" height="19" fill="#ff0000"/><rect x="594" y="132" width="3" height="12" fill="#ff0000"/><rect x="597" y="118" width="1" height="35" fill="#0000c8"/><rect x="596" y="129" width="3" height="15" fill="#0000c8"/><rect x="599" y="129" width="1" height="36" fill="#ff0000"/><rect x="598" y="129" width="3" height="36" fill="#ff0000"/><rect x="600" y="147" width="1" height="30" fill="#0000c8"/><rect x="599" y="162" width="3" height="3" fill="#0000c8"/><rect x="602" y="149" width="1" height="28" fill="#0000c8"/><rect x="601" y="155" width="3" height="8" fill="#0000c8"/><rect x="604" y="152" width="1" height="30" fill="#ff0000"/><rect x="603" y="155" width="3" height="25" fill="#ff0000"/><rect x="606" y="162" width="1" height="24" fill="#0000c8"/><rect x="605" y="162" width="3" height="18" fill="#0000c8"/><rect x="608" y="152" width="1" height="27" fill="#ff0000"/><rect x="607" y="162" width="3" height="9" fill="#ff0000"/><rect x="610" y="164" width="1" height="19" fill="#ff0000"/><rect x="609" y="170" width="3" height="10" fill="#ff0000"/><rect x="612" y="154" width="1" height="31" fill="#0000c8"/><rect x="611" y="161" width="3" height="19" fill="#0000c8"/><rect x="614" y="148" width="1" height="20" fill="#0000c8"/><rect x="613" y="152" width="3" height="10" fill="#0000c8"/><rect x="616" y="151" width="1" height="23" fill="#ff0000"/><rect x="615" y="152" width="3" height="21" fill="#ff0000"/><rect x="618" y="172" width="1" height="23" fill="#ff0000"/><rect x="617" y="172" width="3" height="22" fill="#ff0000"/><rect x="620" y="179" width="1" height="21" fill="#0000c8"/><rect x="619" y="185" width="3" height="9" fill="#0000c8"/><rect x="622" y="185" width="1" height="10" fill="#ff0000"/><rect x="621" y="185" width="3" height="7" fill="#ff0000"/><rect x="624" y="186" width="1" height="29" fill="#ff0000"/><rect x="623" y="191" width="3" height="23" fill="#ff0000"/><rect x="626" y="200" width="1" height="20" fill="#0000c8"/><rect x="625" y="201" width="3" height="13" fill="#0000c8"/><rect x="628" y="174" width="1" height="31" fill="#0000c8"/><rect x="627" y="181" width="3" height="21" fill="#0000c8"/><rect x="630" y="158" width="1" height="30" fill="#0000c8"/><rect x="629" y="165" width="3" height="17" fill="#0000c8"/><rect x="633" y="163" width="1" height="36" fill="#ff0000"/><rect x="632" y="165" width="3" height="27" fill="#ff0000"/><rect x="635" y="180" width="1" height="13" fill="#0000c8"/><rect x="634" y="183" width="3" height="9" fill="#0000c8"/><rect x="637" y="182" width="1" height="19" fill="#ff0000"/><rect x="636" y="183" width="3" height="13" fill="#ff0000"/><rect x="639" y="190" width="1" height="19" fill="#ff0000"/><rect x="638" y="195" width="3" height="13" fill="#ff0000"/><rect x="641" y="186" width="1" height="27" fill="#0000c8"/><rect x="640" y="191" width="3" height="17" fill="#0000c8"/><rect x="643" y="182" width="1" height="13" fill="#0000c8"/><rect x="642" y="184" width="3" height="8" fill="#0000c8"/><rect x="645" y="171" width="1" height="17" fill="#0000c8"/><rect x="644" y="175" width="3" height="10" fill="#0000c8"/><rect x="647" y="160" width="1" height="21" fill="#0000c8"/><rect x="646" y="161" width="3" height="15" fill="#0000c8"/><rect x="649" y="157" width="1" height="22" fill="#ff0000"/><rect x="648" y="161" width="3" height="16" fill="#ff0000"/><rect x="651" y="175" width="1" height="13" fill="#ff0000"/><rect x="650" y="176" width="3" height="8" fill="#ff0000"/><rect x="653" y="178" width="1" height="18" fill="#ff0000"/><rect x="652" y="183" width="3" height="13" fill="#ff0000"/><rect x="655" y="189" width="1" height="12" fill="#0000c8"/><rect x="654" y="193" width="3" height="3" fill="#0000c8"/><rect x="657" y="191" width="1" height="23" fill="#ff0000"/><rect x="656" y="193" width="3" height="18" fill="#ff0000"/><rect x="659" y="190" width="1" height="24" fill="#0000c8"/><rect x="658" y="201" width="3" height="10" fill="#0000c8"/><rect x="660" y="201" width="1" height="13" fill="#ff0000"/><rect x="659" y="201" width="3" height="12" fill="#ff0000"/><rect x="662" y="193" width="1" height="24" fill="#0000c8"/><rect x="661" y="200" width="3" height="13" fill="#0000c8"/><rect x="664" y="200" width="1" height="27" fill="#ff0000"/><rect x="663" y="200" width="3" height="18" fill="#ff0000"/><rect x="666" y="188" width="1" height="30" fill="#0000c8"/><rect x="665" y="188" width="3" height="30" fill="#0000c8"/><rect x="668" y="174" width="1" height="15" fill="#0000c8"/><rect x="667" y="179" width="3" height="10" fill="#0000c8"/><rect x="670" y="169" width="1" height="16" fill="#0000c8"/><rect x="669" y="170" width="3" height="10" fill="#0000c8"/><rect x="672" y="167" width="1" height="18" fill="#ff0000"/><rect x="671" y="170" width="3" height="10" fill="#ff0000"/><rect x="674" y="175" width="1" height="8" fill="#ff0000"/><rect x="673" y="179" width="3" height="3" fill="#ff0000"/><rect x="676" y="166" width="1" height="19" fill="#0000c8"/><rect x="675" y="169" width="3" height="13" fill="#0000c8"/><rect x="678" y="157" width="1" height="9" fill="#ff0000"/><rect x="677" y="162" width="3" height="4" fill="#ff0000"/><rect x="680" y="157" width="1" height="16" fill="#0000c8"/><rect x="679" y="158" width="3" height="8" fill="#0000c8"/><rect x="682" y="155" width="1" height="18" fill="#ff0000"/><rect x="681" y="158" width="3" height="9" fill="#ff0000"/><rect x="684" y="160" width="1" height="26" fill="#ff0000"/><rect x="683" y="166" width="3" height="10" fill="#ff0000"/><rect x="685" y="166" width="1" height="26" fill="#ff0000"/><rect x="684" y="175" width="3" height="14" fill="#ff0000"/><rect x="687" y="173" width="1" height="20" fill="#0000c8"/><rect x="686" y="177" width="3" height="12" fill="#0000c8"/><rect x="689" y="166" width="1" height="16" fill="#0000c8"/><rect x="688" y="167" width="3" height="11" fill="#0000c8"/><rect x="691" y="164" width="1" height="18" fill="#ff0000"/><rect x="690" y="167" width="3" height="11" fill="#ff0000"/><rect x="693" y="164" width="1" height="14" fill="#0000c8"/><rect x="692" y="167" width="3" height="11" fill="#0000c8"/><rect x="695" y="165" width="1" height="13" fill="#ff0000"/><rect x="694" y="167" width="3" height="11" fill="#ff0000"/><rect x="697" y="170" width="1" height="11" fill="#0000c8"/><rect x="696" y="171" width="3" height="7" fill="#0000c8"/><rect x="699" y="167" width="1" height="24" fill="#ff0000"/><rect x="698" y="171" width="3" height="17" fill="#ff0000"/><rect x="701" y="187" width="1" height="12" fill="#ff0000"/><rect x="700" y="187" width="3" height="10" fill="#ff0000"/><rect x="703" y="191" width="1" height="26" fill="#ff0000"/><rect x="702" y="196" width="3" height="17" fill="#ff0000"/><rect x="705" y="195" width="1" height="21" fill="#0000c8"/><rect x="704" y="199" width="3" height="14" fill="#0000c8"/><rect x="707" y="197" width="1" height="22" fill="#ff0000"/><rect x="706" y="199" width="3" height="17" fill="#ff0000"/><rect x="709" y="210" width="1" height="33" fill="#ff0000"/><rect x="708" y="215" width="3" height="22" fill="#ff0000"/><rect x="711" y="220" width="1" height="18" fill="#0000c8"/><rect x="710" y="224" width="3" height="13" fill="#0000c8"/><rect x="713" y="222" width="1" height="24" fill="#ff0000"/><rect x="712" y="224" width="3" height="19" fill="#ff0000"/><rect x="714" y="228" width="1" height="17" fill="#0000c8"/><rect x="713" y="228" width="3" height="15" fill="#0000c8"/><rect x="716" y="225" width="1" height="17" fill="#ff0000"/><rect x="715" y="228" width="3" height="9" fill="#ff0000"/><rect x="718" y="231" width="1" height="21" fill="#ff0000"/><rect x="717" y="236" width="3" height="12" fill="#ff0000"/><rect x="720" y="228" width="1" height="24" fill="#0000c8"/><rect x="719" y="235" width="3" height="13" fill="#0000c8"/><rect x="721" y="228" width="1" height="14" fill="#0000c8"/><rect x="720" y="231" width="3" height="5" fill="#0000c8"/><rect x="723" y="224" width="1" height="12" fill="#0000c8"/><rect x="722" y="226" width="3" height="6" fill="#0000c8"/><rect x="725" y="221" width="1" height="8" fill="#0000c8"/><rect x="724" y="223" width="3" height="4" fill="#0000c8"/><rect x="727" y="218" width="1" height="9" fill="#0000c8"/><rect x="726" y="219" width="3" height="5" fill="#0000c8"/><rect x="728" y="204" width="1" height="18" fill="#0000c8"/><rect x="727" y="209" width="3" height="11" fill="#0000c8"/><rect x="730" y="198" width="1" height="17" fill="#0000c8"/><rect x="729" y="206" width="3" height="4" fill="#0000c8"/><rect x="732" y="205" width="1" height="8" fill="#0000c8"/><rect x="731" y="205" width="3" height="4" fill="#0000c8"/><rect x="734" y="190" width="1" height="18" fill="#0000c8"/><rect x="733" y="191" width="3" height="15" fill="#0000c8"/><rect x="736" y="187" width="1" height="24" fill="#ff0000"/><rect x="735" y="191" width="3" height="15" fill="#ff0000"/><rect x="738" y="202" width="1" height="17" fill="#ff0000"/><rect x="737" y="205" width="3" height="3" fill="#ff0000"/><rect x="740" y="196" width="1" height="12" fill="#0000c8"/><rect x="739" y="196" width="3" height="12" fill="#0000c8"/><rect x="742" y="191" width="1" height="16" fill="#ff0000"/><rect x="741" y="196" width="3" height="8" fill="#ff0000"/><rect x="745" y="191" width="1" height="16" fill="#0000c8"/><rect x="744" y="191" width="3" height="13" fill="#0000c8"/><rect x="747" y="189" width="1" height="8" fill="#ff0000"/><rect x="746" y="191" width="3" height="4" fill="#ff0000"/><rect x="749" y="173" width="1" height="25" fill="#0000c8"/><rect x="748" y="174" width="3" height="21" fill="#0000c8"/><rect x="751" y="170" width="1" height="19" fill="#ff0000"/><rect x="750" y="174" width="3" height="10" fill="#ff0000"/><rect x="753" y="179" width="1" height="16" fill="#ff0000"/><rect x="752" y="183" width="3" height="10" fill="#ff0000"/><rect x="755" y="179" width="1" height="15" fill="#0000c8"/><rect x="754" y="185" width="3" height="8" fill="#0000c8"/><rect x="757" y="185" width="1" height="11" fill="#ff0000"/><rect x="756" y="185" width="3" height="11" fill="#ff0000"/><rect x="759" y="186" width="1" height="14" fill="#0000c8"/><rect x="758" y="194" width="3" height="2" fill="#0000c8"/><rect x="761" y="186" width="1" height="17" fill="#0000c8"/><rect x="760" y="186" width="3" height="9" fill="#0000c8"/><rect x="763" y="183" width="1" height="14" fill="#ff0000"/><rect x="762" y="186" width="3" height="5" fill="#ff0000"/><rect x="765" y="184" width="1" height="13" fill="#ff0000"/><rect x="764" y="190" width="3" height="3" fill="#ff0000"/><rect x="767" y="179" width="1" height="14" fill="#0000c8"/><rect x="766" y="182" width="3" height="11" fill="#0000c8"/><rect x="768" y="173" width="1" height="13" fill="#0000c8"/><rect x="767" y="175" width="3" height="8" fill="#0000c8"/><rect x="770" y="164" width="1" height="14" fill="#0000c8"/><rect x="769" y="164" width="3" height="12" fill="#0000c8"/><rect x="772" y="157" width="1" height="20" fill="#ff0000"/><rect x="771" y="164" width="3" height="6" fill="#ff0000"/><rect x="774" y="163" width="1" height="21" fill="#ff0000"/><rect x="773" y="169" width="3" height="13" fill="#ff0000"/><rect x="776" y="173" width="1" height="13" fill="#0000c8"/><rect x="775" y="175" width="3" height="7" fill="#0000c8"/><rect x="778" y="173" width="1" height="15" fill="#ff0000"/><rect x="777" y="175" width="3" height="9" fill="#ff0000"/><rect x="780" y="167" width="1" height="17" fill="#0000c8"/><rect x="779" y="170" width="3" height="14" fill="#0000c8"/><rect x="782" y="161" width="1" height="13" fill="#0000c8"/><rect x="781" y="162" width="3" height="9" fill="#0000c8"/><rect x="784" y="159" width="1" height="17" fill="#ff0000"/><rect x="783" y="162" width="3" height="13" fill="#ff0000"/><rect x="786" y="167" width="1" height="12" fill="#0000c8"/><rect x="785" y="170" width="3" height="5" fill="#0000c8"/><rect x="788" y="162" width="1" height="12" fill="#0000c8"/><rect x="787" y="165" width="3" height="6" fill="#0000c8"/><rect x="790" y="164" width="1" height="16" fill="#ff0000"/><rect x="789" y="165" width="3" height="13" fill="#ff0000"/><rect x="792" y="164" width="1" height="16" fill="#0000c8"/><rect x="791" y="169" width="3" height="9" fill="#0000c8"/><rect x="794" y="167" width="1" height="25" fill="#ff0000"/><rect x="793" y="169" width="3" height="20" fill="#ff0000"/><rect x="796" y="185" width="1" height="21" fill="#ff0000"/><rect x="795" y="188" width="3" height="16" fill="#ff0000"/><rect x="798" y="198" width="1" height="53" fill="#ff0000"/><rect x="797" y="200" width="3" height="15" fill="#ff0000"/><rect x="800" y="200" width="1" height="23" fill="#ff0000"/><rect x="799" y="214" width="3" height="4" fill="#ff0000"/><rect x="801" y="200" width="1" height="20" fill="#0000c8"/><rect x="800" y="202" width="3" height="16" fill="#0000c8"/><rect x="803" y="200" width="1" height="9" fill="#ff0000"/><rect x="802" y="202" width="3" height="4" fill="#ff0000"/><rect x="805" y="202" width="1" height="13" fill="#ff0000"/><rect x="804" y="202" width="3" height="4" fill="#ff0000"/><rect x="807" y="198" width="1" height="8" fill="#0000c8"/><rect x="806" y="199" width="3" height="7" fill="#0000c8"/><rect x="809" y="189" width="1" height="14" fill="#0000c8"/><rect x="808" y="193" width="3" height="7" fill="#0000c8"/><rect x="811" y="191" width="1" height="7" fill="#0000c8"/><rect x="810" y="193" width="3" height="3" fill="#0000c8"/><rect x="813" y="179" width="1" height="19" fill="#0000c8"/><rect x="812" y="182" width="3" height="12" fill="#0000c8"/><rect x="815" y="180" width="1" height="14" fill="#ff0000"/><rect x="814" y="182" width="3" height="10" fill="#ff0000"/><rect x="817" y="181" width="1" height="12" fill="#0000c8"/><rect x="816" y="185" width="3" height="7" fill="#0000c8"/><rect x="819" y="184" width="1" height="19" fill="#ff0000"/><rect x="818" y="185" width="3" height="16" fill="#ff0000"/><rect x="821" y="191" width="1" height="13" fill="#0000c8"/><rect x="820" y="191" width="3" height="10" fill="#0000c8"/><rect x="823" y="183" width="1" height="9" fill="#0000c8"/><rect x="822" y="187" width="3" height="5" fill="#0000c8"/><rect x="825" y="179" width="1" height="14" fill="#0000c8"/><rect x="824" y="180" width="3" height="8" fill="#0000c8"/><rect x="827" y="178" width="1" height="9" fill="#ff0000"/><rect x="826" y="180" width="3" height="2" fill="#ff0000"/><rect x="829" y="177" width="1" height="11" fill="#ff0000"/><rect x="828" y="181" width="3" height="4" fill="#ff0000"/><rect x="830" y="181" width="1" height="9" fill="#ff0000"/><rect x="829" y="184" width="3" height="4" fill="#ff0000"/><rect x="832" y="191" width="1" height="15" fill="#ff0000"/><rect x="831" y="191" width="3" height="15" fill="#ff0000"/><rect x="834" y="198" width="1" height="12" fill="#0000c8"/><rect x="833" y="198" width="3" height="8" fill="#0000c8"/><rect x="836" y="192" width="1" height="14" fill="#ff0000"/><rect x="835" y="198" width="3" height="6" fill="#ff0000"/><rect x="838" y="200" width="1" height="17" fill="#ff0000"/><rect x="837" y="203" width="3" height="13" fill="#ff0000"/><rect x="840" y="215" width="1" height="7" fill="#ff0000"/><rect x="839" y="215" width="3" height="3" fill="#ff0000"/><rect x="842" y="211" width="1" height="7" fill="#0000c8"/><rect x="841" y="213" width="3" height="5" fill="#0000c8"/><rect x="844" y="213" width="1" height="16" fill="#ff0000"/><rect x="843" y="213" width="3" height="15" fill="#ff0000"/><rect x="846" y="217" width="1" height="14" fill="#0000c8"/><rect x="845" y="221" width="3" height="7" fill="#0000c8"/><rect x="848" y="213" width="1" height="12" fill="#0000c8"/><rect x="847" y="213" width="3" height="9" fill="#0000c8"/><rect x="850" y="209" width="1" height="13" fill="#ff0000"/><rect x="849" y="213" width="3" height="6" fill="#ff0000"/><rect x="852" y="214" width="1" height="14" fill="#ff0000"/><rect x="851" y="218" width="3" height="5" fill="#ff0000"/><rect x="854" y="211" width="1" height="12" fill="#0000c8"/><rect x="853" y="211" width="3" height="12" fill="#0000c8"/><rect x="856" y="206" width="1" height="27" fill="#ff0000"/><rect x="855" y="211" width="3" height="19" fill="#ff0000"/><rect x="857" y="227" width="1" height="19" fill="#ff0000"/><rect x="856" y="229" width="3" height="15" fill="#ff0000"/><rect x="859" y="227" width="1" height="21" fill="#0000c8"/><rect x="858" y="232" width="3" height="12" fill="#0000c8"/><rect x="861" y="231" width="1" height="15" fill="#ff0000"/><rect x="860" y="232" width="3" height="14" fill="#ff0000"/><rect x="863" y="228" width="1" height="25" fill="#0000c8"/><rect x="862" y="235" width="3" height="11" fill="#0000c8"/><rect x="865" y="227" width="1" height="14" fill="#0000c8"/><rect x="864" y="229" width="3" height="7" fill="#0000c8"/><rect x="867" y="216" width="1" height="15" fill="#0000c8"/><rect x="866" y="221" width="3" height="9" fill="#0000c8"/><rect x="869" y="214" width="1" height="13" fill="#0000c8"/><rect x="868" y="221" width="3" height="6" fill="#0000c8"/><rect x="871" y="217" width="1" height="12" fill="#0000c8"/><rect x="870" y="218" width="3" height="4" fill="#0000c8"/><rect x="872" y="214" width="1" height="20" fill="#ff0000"/><rect x="871" y="218" width="3" height="12" fill="#ff0000"/><rect x="875" y="214" width="1" height="18" fill="#0000c8"/><rect x="874" y="217" width="3" height="13" fill="#0000c8"/><rect x="877" y="210" width="1" height="9" fill="#0000c8"/><rect x="876" y="213" width="3" height="5" fill="#0000c8"/><rect x="879" y="211" width="1" height="6" fill="#0000c8"/><rect x="878" y="211" width="3" height="3" fill="#0000c8"/><rect x="881" y="207" width="1" height="14" fill="#ff0000"/><rect x="880" y="211" width="3" height="7" fill="#ff0000"/><rect x="883" y="205" width="1" height="13" fill="#0000c8"/><rect x="882" y="207" width="3" height="11" fill="#0000c8"/><rect x="885" y="206" width="1" height="12" fill="#ff0000"/><rect x="884" y="207" width="3" height="9" fill="#ff0000"/><rect x="887" y="204" width="1" height="13" fill="#0000c8"/><rect x="886" y="205" width="3" height="11" fill="#0000c8"/><rect x="889" y="202" width="1" height="15" fill="#ff0000"/><rect x="888" y="205" width="3" height="10" fill="#ff0000"/><rect x="891" y="203" width="1" height="14" fill="#0000c8"/><rect x="890" y="206" width="3" height="9" fill="#0000c8"/><rect x="893" y="202" width="1" height="7" fill="#0000c8"/><rect x="892" y="206" width="3" height="3" fill="#0000c8"/><rect x="895" y="202" width="1" height="10" fill="#0000c8"/><rect x="894" y="205" width="3" height="2" fill="#0000c8"/><rect x="897" y="204" width="1" height="17" fill="#ff0000"/><rect x="896" y="205" width="3" height="14" fill="#ff0000"/><rect x="899" y="202" width="1" height="21" fill="#0000c8"/><rect x="898" y="204" width="3" height="15" fill="#0000c8"/><rect x="902" y="196" width="1" height="9" fill="#0000c8"/><rect x="901" y="198" width="3" height="7" fill="#0000c8"/><rect x="904" y="198" width="1" height="11" fill="#ff0000"/><rect x="903" y="198" width="3" height="10" fill="#ff0000"/><rect x="906" y="206" width="1" height="11" fill="#ff0000"/><rect x="905" y="207" width="3" height="8" fill="#ff0000"/><rect x="908" y="199" width="1" height="18" fill="#0000c8"/><rect x="907" y="202" width="3" height="13" fill="#0000c8"/><rect x="910" y="198" width="1" height="6" fill="#0000c8"/><rect x="909" y="199" width="3" height="4" fill="#0000c8"/><rect x="912" y="179" width="1" height="24" fill="#0000c8"/><rect x="911" y="186" width="3" height="14" fill="#0000c8"/><rect x="914" y="183" width="1" height="39" fill="#ff0000"/><rect x="913" y="186" width="3" height="26" fill="#ff0000"/><rect x="915" y="200" width="1" height="44" fill="#ff0000"/><rect x="914" y="211" width="3" height="33" fill="#ff0000"/><rect x="917" y="200" width="1" height="84" fill="#0000c8"/><rect x="916" y="225" width="3" height="30" fill="#0000c8"/><rect x="919" y="186" width="1" height="61" fill="#0000c8"/><rect x="918" y="192" width="3" height="34" fill="#0000c8"/><rect x="921" y="183" width="1" height="39" fill="#ff0000"/><rect x="920" y="192" width="3" height="30" fill="#ff0000"/><rect x="923" y="214" width="1" height="16" fill="#0000c8"/><rect x="922" y="217" width="3" height="5" fill="#0000c8"/><rect x="925" y="205" width="1" height="17" fill="#0000c8"/><rect x="924" y="214" width="3" height="4" fill="#0000c8"/><rect x="927" y="214" width="1" height="16" fill="#ff0000"/><rect x="926" y="214" width="3" height="10" fill="#ff0000"/><rect x="929" y="217" width="1" height="18" fill="#ff0000"/><rect x="928" y="223" width="3" height="5" fill="#ff0000"/><rect x="931" y="222" width="1" height="13" fill="#ff0000"/><rect x="930" y="227" width="3" height="3" fill="#ff0000"/><rect x="933" y="225" width="1" height="14" fill="#ff0000"/><rect x="932" y="229" width="3" height="5" fill="#ff0000"/><rect x="935" y="221" width="1" height="13" fill="#0000c8"/><rect x="934" y="224" width="3" height="10" fill="#0000c8"/><rect x="937" y="217" width="1" height="11" fill="#0000c8"/><rect x="936" y="221" width="3" height="4" fill="#0000c8"/><rect x="939" y="218" width="1" height="8" fill="#0000c8"/><rect x="938" y="219" width="3" height="3" fill="#0000c8"/><rect x="941" y="201" width="1" height="21" fill="#0000c8"/><rect x="940" y="205" width="3" height="15" fill="#0000c8"/><rect x="943" y="202" width="1" height="31" fill="#ff0000"/><rect x="942" y="205" width="3" height="21" fill="#ff0000"/><rect x="945" y="221" width="1" height="12" fill="#ff0000"/><rect x="944" y="225" width="3" height="8" fill="#ff0000"/><rect x="946" y="221" width="1" height="17" fill="#0000c8"/><rect x="945" y="226" width="3" height="7" fill="#0000c8"/><rect x="948" y="217" width="1" height="14" fill="#0000c8"/><rect x="947" y="221" width="3" height="6" fill="#0000c8"/><rect x="950" y="220" width="1" height="13" fill="#ff0000"/><rect x="949" y="221" width="3" height="10" fill="#ff0000"/><rect x="952" y="224" width="1" height="8" fill="#0000c8"/><rect x="951" y="225" width="3" height="6" fill="#0000c8"/><rect x="954" y="223" width="1" height="19" fill="#ff0000"/><rect x="953" y="225" width="3" height="15" fill="#ff0000"/><rect x="956" y="237" width="1" height="19" fill="#ff0000"/><rect x="955" y="239" width="3" height="6" fill="#ff0000"/><rect x="958" y="232" width="1" height="13" fill="#0000c8"/><rect x="957" y="236" width="3" height="9" fill="#0000c8"/><rect x="960" y="228" width="1" height="12" fill="#0000c8"/><rect x="959" y="231" width="3" height="6" fill="#0000c8"/><rect x="962" y="231" width="1" height="16" fill="#ff0000"/><rect x="961" y="231" width="3" height="8" fill="#ff0000"/><rect x="964" y="229" width="1" height="17" fill="#ff0000"/><rect x="963" y="238" width="3" height="5" fill="#ff0000"/><rect x="966" y="232" width="1" height="13" fill="#0000c8"/><rect x="965" y="235" width="3" height="8" fill="#0000c8"/><rect x="968" y="234" width="1" height="17" fill="#ff0000"/><rect x="967" y="235" width="3" height="9" fill="#ff0000"/><rect x="970" y="236" width="1" height="19" fill="#ff0000"/><rect x="969" y="243" width="3" height="10" fill="#ff0000"/><rect x="972" y="240" width="1" height="18" fill="#0000c8"/><rect x="971" y="242" width="3" height="11" fill="#0000c8"/><rect x="974" y="242" width="1" height="7" fill="#ff0000"/><rect x="973" y="242" width="3" height="3" fill="#ff0000"/><rect x="975" y="237" width="1" height="8" fill="#0000c8"/><rect x="974" y="239" width="3" height="6" fill="#0000c8"/><rect x="977" y="239" width="1" height="10" fill="#ff0000"/><rect x="976" y="239" width="3" height="6" fill="#ff0000"/><rect x="979" y="241" width="1" height="13" fill="#ff0000"/><rect x="978" y="244" width="3" height="7" fill="#ff0000"/><rect x="981" y="248" width="1" height="8" fill="#ff0000"/><rect x="980" y="248" width="3" height="3" fill="#ff0000"/><rect x="983" y="244" width="1" height="21" fill="#ff0000"/><rect x="982" y="250" width="3" height="12" fill="#ff0000"/><rect x="985" y="241" width="1" height="24" fill="#0000c8"/><rect x="984" y="246" width="3" height="16" fill="#0000c8"/><rect x="987" y="246" width="1" height="15" fill="#ff0000"/><rect x="986" y="246" width="3" height="12" fill="#ff0000"/><rect x="989" y="249" width="1" height="11" fill="#0000c8"/><rect x="988" y="254" width="3" height="4" fill="#0000c8"/><rect x="991" y="249" width="1" height="12" fill="#0000c8"/><rect x="990" y="251" width="3" height="4" fill="#0000c8"/><rect x="993" y="251" width="1" height="9" fill="#ff0000"/><rect x="992" y="251" width="3" height="7" fill="#ff0000"/><rect x="995" y="255" width="1" height="13" fill="#ff0000"/><rect x="994" y="257" width="3" height="5" fill="#ff0000"/><rect x="997" y="256" width="1" height="10" fill="#ff0000"/><rect x="996" y="257" width="3" height="5" fill="#ff0000"/><rect x="999" y="257" width="1" height="9" fill="#ff0000"/><rect x="998" y="261" width="3" height="5" fill="#ff0000"/><rect x="1001" y="256" width="1" height="14" fill="#0000c8"/><rect x="1000" y="256" width="3" height="10" fill="#0000c8"/><rect x="1003" y="253" width="1" height="12" fill="#ff0000"/><rect x="1002" y="256" width="3" height="5" fill="#ff0000"/><rect x="1005" y="250" width="1" height="12" fill="#0000c8"/><rect x="1004" y="253" width="3" height="8" fill="#0000c8"/><rect x="1007" y="248" width="1" height="10" fill="#0000c8"/><rect x="1006" y="248" width="3" height="6" fill="#0000c8"/><rect x="1008" y="240" width="1" height="11" fill="#0000c8"/><rect x="1007" y="242" width="3" height="7" fill="#0000c8"/><rect x="1010" y="241" width="1" height="13" fill="#ff0000"/><rect x="1009" y="242" width="3" height="7" fill="#ff0000"/><rect x="1012" y="236" width="1" height="13" fill="#0000c8"/><rect x="1011" y="241" width="3" height="8" fill="#0000c8"/><rect x="1014" y="231" width="1" height="18" fill="#0000c8"/><rect x="1013" y="232" width="3" height="10" fill="#0000c8"/><rect x="1016" y="219" width="1" height="15" fill="#0000c8"/><rect x="1015" y="221" width="3" height="12" fill="#0000c8"/></g><g shape-rendering="crispEdges" fill="#a51c1c"><rect x="9" y="442" width="1" height="1"/><rect x="10" y="443" width="1" height="1"/><rect x="11" y="443" width="1" height="1"/><rect x="12" y="444" width="1" height="1"/><rect x="13" y="445" width="1" height="1"/><rect x="14" y="445" width="1" height="1"/><rect x="15" y="445" width="1" height="1"/><rect x="16" y="445" width="1" height="1"/><rect x="17" y="445" width="1" height="1"/><rect x="18" y="445" width="1" height="1"/><rect x="19" y="445" width="1" height="1"/><rect x="20" y="446" width="1" height="1"/><rect x="21" y="446" width="1" height="1"/><rect x="22" y="447" width="1" height="1"/><rect x="23" y="448" width="1" height="1"/><rect x="24" y="448" width="1" height="1"/><rect x="25" y="449" width="1" height="1"/><rect x="26" y="450" width="1" height="1"/><rect x="27" y="450" width="1" height="1"/><rect x="28" y="451" width="1" height="1"/><rect x="29" y="452" width="1" height="1"/><rect x="30" y="452" width="1" height="1"/><rect x="31" y="453" width="1" height="1"/><rect x="32" y="453" width="1" height="1"/><rect x="33" y="454" width="1" height="1"/><rect x="34" y="454" width="1" height="1"/><rect x="35" y="455" width="1" height="1"/><rect x="36" y="456" width="1" height="1"/><rect x="37" y="456" width="1" height="1"/><rect x="38" y="457" width="1" height="1"/><rect x="39" y="457" width="1" height="1"/><rect x="40" y="458" width="1" height="1"/><rect x="41" y="458" width="1" height="1"/><rect x="42" y="459" width="1" height="1"/><rect x="43" y="459" width="1" height="1"/><rect x="44" y="460" width="1" height="1"/><rect x="45" y="461" width="1" height="1"/><rect x="46" y="462" width="1" height="1"/><rect x="47" y="463" width="1" height="1"/><rect x="48" y="464" width="1" height="1"/><rect x="49" y="465" width="1" height="2"/><rect x="50" y="467" width="1" height="1"/><rect x="51" y="468" width="1" height="1"/><rect x="52" y="469" width="1" height="1"/><rect x="53" y="470" width="1" height="1"/><rect x="54" y="471" width="1" height="1"/><rect x="55" y="472" width="1" height="2"/><rect x="56" y="474" width="1" height="1"/><rect x="57" y="474" width="1" height="1"/><rect x="58" y="475" width="1" height="1"/><rect x="59" y="476" width="1" height="2"/><rect x="60" y="477" width="1" height="1"/><rect x="61" y="478" width="1" height="1"/><rect x="62" y="479" width="1" height="1"/><rect x="63" y="480" width="1" height="1"/><rect x="64" y="481" width="1" height="1"/><rect x="65" y="482" width="1" height="1"/><rect x="66" y="483" width="1" height="1"/><rect x="67" y="483" width="1" height="1"/><rect x="68" y="484" width="1" height="1"/><rect x="69" y="485" width="1" height="1"/><rect x="70" y="486" width="1" height="1"/><rect x="71" y="486" width="1" height="1"/><rect x="72" y="487" width="1" height="1"/><rect x="73" y="488" width="1" height="1"/><rect x="74" y="488" width="1" height="1"/><rect x="75" y="489" width="1" height="1"/><rect x="76" y="489" width="1" height="1"/><rect x="77" y="490" width="1" height="1"/><rect x="78" y="490" width="1" height="1"/><rect x="79" y="491" width="1" height="1"/><rect x="80" y="491" width="1" height="1"/><rect x="81" y="491" width="1" height="1"/><rect x="82" y="492" width="1" height="1"/><rect x="83" y="492" width="1" height="1"/><rect x="84" y="493" width="1" height="1"/><rect x="85" y="493" width="1" height="1"/><rect x="86" y="493" width="1" height="1"/><rect x="87" y="494" width="1" height="1"/><rect x="88" y="494" width="1" height="1"/><rect x="89" y="494" width="1" height="1"/><rect x="90" y="495" width="1" height="1"/><rect x="91" y="495" width="1" height="1"/><rect x="92" y="496" width="1" height="1"/><rect x="93" y="496" width="1" height="1"/><rect x="94" y="497" width="1" height="1"/><rect x="95" y="497" width="1" height="1"/><rect x="96" y="497" width="1" height="1"/><rect x="97" y="497" width="1" height="1"/><rect x="98" y="498" width="1" height="1"/><rect x="99" y="498" width="1" height="1"/><rect x="100" y="498" width="1" height="1"/><rect x="101" y="498" width="1" height="1"/><rect x="102" y="498" width="1" height="1"/><rect x="103" y="498" width="1" height="1"/><rect x="104" y="497" width="1" height="1"/><rect x="105" y="497" width="1" height="1"/><rect x="106" y="496" width="1" height="1"/><rect x="107" y="496" width="1" height="1"/><rect x="108" y="495" width="1" height="1"/><rect x="109" y="494" width="1" height="1"/><rect x="110" y="493" width="1" height="1"/><rect x="111" y="493" width="1" height="1"/><rect x="112" y="492" width="1" height="1"/><rect x="113" y="491" width="1" height="1"/><rect x="114" y="490" width="1" height="1"/><rect x="115" y="489" width="1" height="1"/><rect x="116" y="489" width="1" height="1"/><rect x="117" y="488" width="1" height="1"/><rect x="118" y="487" width="1" height="1"/><rect x="119" y="487" width="1" height="1"/><rect x="120" y="486" width="1" height="1"/><rect x="121" y="486" width="1" height="1"/><rect x="122" y="486" width="1" height="1"/><rect x="123" y="486" width="1" height="1"/><rect x="124" y="486" width="1" height="1"/><rect x="125" y="486" width="1" height="1"/><rect x="126" y="486" width="1" height="1"/><rect x="127" y="486" width="1" height="1"/><rect x="128" y="486" width="1" height="1"/><rect x="129" y="486" width="1" height="1"/><rect x="130" y="486" width="1" height="1"/><rect x="131" y="486" width="1" height="1"/><rect x="132" y="486" width="1" height="1"/><rect x="133" y="486" width="1" height="1"/><rect x="134" y="486" width="1" height="1"/><rect x="135" y="486" width="1" height="1"/><rect x="136" y="486" width="1" height="1"/><rect x="137" y="486" width="1" height="1"/><rect x="138" y="487" width="1" height="1"/><rect x="139" y="487" width="1" height="1"/><rect x="140" y="487" width="1" height="1"/><rect x="141" y="487" width="1" height="1"/><rect x="142" y="487" width="1" height="1"/><rect x="143" y="487" width="1" height="1"/><rect x="144" y="487" width="1" height="1"/><rect x="145" y="487" width="1" height="1"/><rect x="146" y="487" width="1" height="1"/><rect x="147" y="488" width="1" height="1"/><rect x="148" y="488" width="1" height="1"/><rect x="149" y="488" width="1" height="1"/><rect x="150" y="488" width="1" height="1"/><rect x="151" y="489" width="1" height="1"/><rect x="152" y="489" width="1" height="1"/><rect x="153" y="489" width="1" height="1"/><rect x="154" y="489" width="1" height="1"/><rect x="155" y="490" width="1" height="1"/><rect x="156" y="490" width="1" height="1"/><rect x="157" y="490" width="1" height="1"/><rect x="158" y="490" width="1" height="1"/><rect x="159" y="491" width="1" height="1"/><rect x="160" y="491" width="1" height="1"/><rect x="161" y="491" width="1" height="1"/><rect x="162" y="491" width="1" height="1"/><rect x="163" y="491" width="1" height="1"/><rect x="164" y="491" width="1" height="1"/><rect x="165" y="492" width="1" height="1"/><rect x="166" y="492" width="1" height="1"/><rect x="167" y="492" width="1" height="1"/><rect x="168" y="492" width="1" height="1"/><rect x="169" y="492" width="1" height="1"/><rect x="170" y="492" width="1" height="1"/><rect x="171" y="492" width="1" height="1"/><rect x="172" y="492" width="1" height="1"/><rect x="173" y="491" width="1" height="1"/><rect x="174" y="491" width="1" height="1"/><rect x="175" y="491" width="1" height="1"/><rect x="176" y="491" width="1" height="1"/><rect x="177" y="491" width="1" height="1"/><rect x="178" y="490" width="1" height="1"/><rect x="179" y="490" width="1" height="1"/><rect x="180" y="489" width="1" height="1"/><rect x="181" y="488" width="1" height="1"/><rect x="182" y="487" width="1" height="1"/><rect x="183" y="486" width="1" height="1"/><rect x="184" y="485" width="1" height="1"/><rect x="185" y="484" width="1" height="1"/><rect x="186" y="483" width="1" height="1"/><rect x="187" y="482" width="1" height="1"/><rect x="188" y="481" width="1" height="1"/><rect x="189" y="480" width="1" height="1"/><rect x="190" y="478" width="1" height="2"/><rect x="191" y="477" width="1" height="1"/><rect x="192" y="475" width="1" height="2"/><rect x="193" y="474" width="1" height="1"/><rect x="194" y="473" width="1" height="1"/><rect x="195" y="471" width="1" height="2"/><rect x="196" y="469" width="1" height="2"/><rect x="197" y="467" width="1" height="2"/><rect x="198" y="465" width="1" height="2"/><rect x="199" y="462" width="1" height="3"/><rect x="200" y="460" width="1" height="2"/><rect x="201" y="458" width="1" height="2"/><rect x="202" y="455" width="1" height="3"/><rect x="203" y="453" width="1" height="2"/><rect x="204" y="450" width="1" height="3"/><rect x="205" y="448" width="1" height="2"/><rect x="206" y="445" width="1" height="3"/><rect x="207" y="443" width="1" height="2"/><rect x="208" y="440" width="1" height="3"/><rect x="209" y="438" width="1" height="2"/><rect x="210" y="436" width="1" height="2"/><rect x="211" y="434" width="1" height="2"/><rect x="212" y="431" width="1" height="3"/><rect x="213" y="429" width="1" height="2"/><rect x="214" y="427" width="1" height="2"/><rect x="215" y="425" width="1" height="2"/><rect x="216" y="423" width="1" height="2"/><rect x="217" y="420" width="1" height="3"/><rect x="218" y="418" width="1" height="2"/><rect x="219" y="415" width="1" height="3"/><rect x="220" y="413" width="1" height="2"/><rect x="221" y="410" width="1" height="3"/><rect x="222" y="408" width="1" height="2"/><rect x="223" y="405" width="1" height="3"/><rect x="224" y="403" width="1" height="2"/><rect x="225" y="399" width="1" height="4"/><rect x="226" y="396" width="1" height="3"/><rect x="227" y="392" width="1" height="4"/><rect x="228" y="389" width="1" height="3"/><rect x="229" y="386" width="1" height="3"/><rect x="230" y="383" width="1" height="3"/><rect x="231" y="381" width="1" height="2"/><rect x="232" y="379" width="1" height="2"/><rect x="233" y="377" width="1" height="2"/><rect x="234" y="375" width="1" height="2"/><rect x="235" y="374" width="1" height="1"/><rect x="236" y="373" width="1" height="1"/><rect x="237" y="372" width="1" height="1"/><rect x="238" y="371" width="1" height="1"/><rect x="239" y="370" width="1" height="1"/><rect x="240" y="368" width="1" height="2"/><rect x="241" y="366" width="1" height="2"/><rect x="242" y="365" width="1" height="1"/><rect x="243" y="363" width="1" height="2"/><rect x="244" y="361" width="1" height="2"/><rect x="245" y="359" width="1" height="2"/><rect x="246" y="358" width="1" height="1"/><rect x="247" y="356" width="1" height="2"/><rect x="248" y="355" width="1" height="1"/><rect x="249" y="354" width="1" height="1"/><rect x="250" y="353" width="1" height="1"/><rect x="251" y="352" width="1" height="1"/><rect x="252" y="351" width="1" height="1"/><rect x="253" y="350" width="1" height="1"/><rect x="254" y="349" width="1" height="1"/><rect x="255" y="348" width="1" height="1"/><rect x="256" y="347" width="1" height="1"/><rect x="257" y="346" width="1" height="1"/><rect x="258" y="344" width="1" height="2"/><rect x="259" y="343" width="1" height="1"/><rect x="260" y="342" width="1" height="1"/><rect x="261" y="341" width="1" height="1"/><rect x="262" y="340" width="1" height="1"/><rect x="263" y="339" width="1" height="1"/><rect x="264" y="339" width="1" height="1"/><rect x="265" y="338" width="1" height="1"/><rect x="266" y="337" width="1" height="1"/><rect x="267" y="336" width="1" height="1"/><rect x="268" y="336" width="1" height="1"/><rect x="269" y="335" width="1" height="1"/><rect x="270" y="335" width="1" height="1"/><rect x="271" y="334" width="1" height="1"/><rect x="272" y="334" width="1" height="1"/><rect x="273" y="333" width="1" height="1"/><rect x="274" y="333" width="1" height="1"/><rect x="275" y="332" width="1" height="1"/><rect x="276" y="332" width="1" height="1"/><rect x="277" y="331" width="1" height="1"/><rect x="278" y="330" width="1" height="1"/><rect x="279" y="329" width="1" height="1"/><rect x="280" y="328" width="1" height="1"/><rect x="281" y="327" width="1" height="1"/><rect x="282" y="326" width="1" height="1"/><rect x="283" y="326" width="1" height="1"/><rect x="284" y="325" width="1" height="1"/><rect x="285" y="323" width="1" height="2"/><rect x="286" y="323" width="1" height="1"/><rect x="287" y="321" width="1" height="2"/><rect x="288" y="321" width="1" height="1"/><rect x="289" y="319" width="1" height="2"/><rect x="290" y="318" width="1" height="1"/><rect x="291" y="318" width="1" height="1"/><rect x="292" y="317" width="1" height="1"/><rect x="293" y="316" width="1" height="1"/><rect x="294" y="314" width="1" height="2"/><rect x="295" y="314" width="1" height="1"/><rect x="296" y="312" width="1" height="2"/><rect x="297" y="312" width="1" height="1"/><rect x="298" y="310" width="1" height="2"/><rect x="299" y="309" width="1" height="1"/><rect x="300" y="309" width="1" height="1"/><rect x="301" y="308" width="1" height="1"/><rect x="302" y="307" width="1" height="1"/><rect x="303" y="305" width="1" height="2"/><rect x="304" y="305" width="1" height="1"/><rect x="305" y="303" width="1" height="2"/><rect x="306" y="303" width="1" height="1"/><rect x="307" y="301" width="1" height="2"/><rect x="308" y="300" width="1" height="1"/><rect x="309" y="300" width="1" height="1"/><rect x="310" y="299" width="1" height="1"/><rect x="311" y="298" width="1" height="1"/><rect x="312" y="296" width="1" height="2"/><rect x="313" y="296" width="1" height="1"/><rect x="314" y="294" width="1" height="2"/><rect x="315" y="294" width="1" height="1"/><rect x="316" y="292" width="1" height="2"/><rect x="317" y="291" width="1" height="1"/><rect x="318" y="291" width="1" height="1"/><rect x="319" y="290" width="1" height="1"/><rect x="320" y="289" width="1" height="1"/><rect x="321" y="289" width="1" height="1"/><rect x="322" y="288" width="1" height="1"/><rect x="323" y="288" width="1" height="1"/><rect x="324" y="288" width="1" height="1"/><rect x="325" y="287" width="1" height="1"/><rect x="326" y="287" width="1" height="1"/><rect x="327" y="287" width="1" height="1"/><rect x="328" y="287" width="1" height="1"/><rect x="329" y="286" width="1" height="1"/><rect x="330" y="286" width="1" height="1"/><rect x="331" y="286" width="1" height="1"/><rect x="332" y="286" width="1" height="1"/><rect x="333" y="285" width="1" height="1"/><rect x="334" y="285" width="1" height="1"/><rect x="335" y="285" width="1" height="1"/><rect x="336" y="285" width="1" height="1"/><rect x="337" y="285" width="1" height="1"/><rect x="338" y="284" width="1" height="1"/><rect x="339" y="284" width="1" height="1"/><rect x="340" y="284" width="1" height="1"/><rect x="341" y="284" width="1" height="1"/><rect x="342" y="284" width="1" height="1"/><rect x="343" y="283" width="1" height="1"/><rect x="344" y="283" width="1" height="1"/><rect x="345" y="283" width="1" height="1"/><rect x="346" y="283" width="1" height="1"/><rect x="347" y="283" width="1" height="1"/><rect x="348" y="283" width="1" height="1"/><rect x="349" y="282" width="1" height="1"/><rect x="350" y="282" width="1" height="1"/><rect x="351" y="282" width="1" height="1"/><rect x="352" y="282" width="1" height="1"/><rect x="353" y="282" width="1" height="1"/><rect x="354" y="281" width="1" height="1"/><rect x="355" y="281" width="1" height="1"/><rect x="356" y="280" width="1" height="1"/><rect x="357" y="280" width="1" height="1"/><rect x="358" y="280" width="1" height="1"/><rect x="359" y="279" width="1" height="1"/><rect x="360" y="278" width="1" height="1"/><rect x="361" y="277" width="1" height="1"/><rect x="362" y="276" width="1" height="1"/><rect x="363" y="275" width="1" height="1"/><rect x="364" y="274" width="1" height="1"/><rect x="365" y="272" width="1" height="2"/><rect x="366" y="270" width="1" height="2"/><rect x="367" y="268" width="1" height="2"/><rect x="368" y="266" width="1" height="2"/><rect x="369" y="265" width="1" height="1"/><rect x="370" y="264" width="1" height="1"/><rect x="371" y="263" width="1" height="1"/><rect x="372" y="262" width="1" height="1"/><rect x="373" y="261" width="1" height="1"/><rect x="374" y="259" width="1" height="2"/><rect x="375" y="258" width="1" height="1"/><rect x="376" y="256" width="1" height="2"/><rect x="377" y="253" width="1" height="3"/><rect x="378" y="251" width="1" height="2"/><rect x="379" y="248" width="1" height="3"/><rect x="380" y="245" width="1" height="3"/><rect x="381" y="243" width="1" height="2"/><rect x="382" y="240" width="1" height="3"/><rect x="383" y="238" width="1" height="2"/><rect x="384" y="235" width="1" height="3"/><rect x="385" y="231" width="1" height="4"/><rect x="386" y="228" width="1" height="3"/><rect x="387" y="224" width="1" height="4"/><rect x="388" y="221" width="1" height="3"/><rect x="389" y="218" width="1" height="3"/><rect x="390" y="215" width="1" height="3"/><rect x="391" y="212" width="1" height="3"/><rect x="392" y="210" width="1" height="2"/><rect x="393" y="207" width="1" height="3"/><rect x="394" y="205" width="1" height="2"/><rect x="395" y="203" width="1" height="2"/><rect x="396" y="200" width="1" height="3"/><rect x="397" y="198" width="1" height="2"/><rect x="398" y="196" width="1" height="2"/><rect x="399" y="194" width="1" height="2"/><rect x="400" y="193" width="1" height="1"/><rect x="401" y="191" width="1" height="2"/><rect x="402" y="190" width="1" height="1"/><rect x="403" y="188" width="1" height="2"/><rect x="404" y="187" width="1" height="1"/><rect x="405" y="185" width="1" height="2"/><rect x="406" y="183" width="1" height="2"/><rect x="407" y="181" width="1" height="2"/><rect x="408" y="179" width="1" height="2"/><rect x="409" y="177" width="1" height="2"/><rect x="410" y="175" width="1" height="2"/><rect x="411" y="173" width="1" height="2"/><rect x="412" y="171" width="1" height="2"/><rect x="413" y="169" width="1" height="2"/><rect x="414" y="168" width="1" height="1"/><rect x="415" y="166" width="1" height="2"/><rect x="416" y="164" width="1" height="2"/><rect x="417" y="163" width="1" height="1"/><rect x="418" y="162" width="1" height="1"/><rect x="419" y="160" width="1" height="2"/><rect x="420" y="159" width="1" height="1"/><rect x="421" y="158" width="1" height="1"/><rect x="422" y="157" width="1" height="1"/><rect x="423" y="156" width="1" height="1"/><rect x="424" y="154" width="1" height="2"/><rect x="425" y="153" width="1" height="1"/><rect x="426" y="152" width="1" height="1"/><rect x="427" y="151" width="1" height="1"/><rect x="428" y="150" width="1" height="1"/><rect x="429" y="149" width="1" height="1"/><rect x="430" y="148" width="1" height="1"/><rect x="431" y="147" width="1" height="1"/><rect x="432" y="146" width="1" height="1"/><rect x="433" y="144" width="1" height="2"/><rect x="434" y="142" width="1" height="2"/><rect x="435" y="140" width="1" height="2"/><rect x="436" y="138" width="1" height="2"/><rect x="437" y="136" width="1" height="2"/><rect x="438" y="134" width="1" height="2"/><rect x="439" y="133" width="1" height="1"/><rect x="440" y="131" width="1" height="2"/><rect x="441" y="130" width="1" height="1"/><rect x="442" y="128" width="1" height="2"/><rect x="443" y="127" width="1" height="1"/><rect x="444" y="126" width="1" height="1"/><rect x="445" y="125" width="1" height="1"/><rect x="446" y="124" width="1" height="1"/><rect x="447" y="123" width="1" height="1"/><rect x="448" y="121" width="1" height="2"/><rect x="449" y="120" width="1" height="1"/><rect x="450" y="118" width="1" height="2"/><rect x="451" y="117" width="1" height="1"/><rect x="452" y="115" width="1" height="2"/><rect x="453" y="114" width="1" height="1"/><rect x="454" y="113" width="1" height="1"/><rect x="455" y="112" width="1" height="1"/><rect x="456" y="111" width="1" height="1"/><rect x="457" y="110" width="1" height="1"/><rect x="458" y="109" width="1" height="1"/><rect x="459" y="109" width="1" height="1"/><rect x="460" y="109" width="1" height="1"/><rect x="461" y="109" width="1" height="1"/><rect x="462" y="108" width="1" height="1"/><rect x="463" y="108" width="1" height="1"/><rect x="464" y="108" width="1" height="1"/><rect x="465" y="108" width="1" height="1"/><rect x="466" y="108" width="1" height="1"/><rect x="467" y="108" width="1" height="1"/><rect x="468" y="108" width="1" height="1"/><rect x="469" y="108" width="1" height="1"/><rect x="470" y="108" width="1" height="1"/><rect x="471" y="107" width="1" height="1"/><rect x="472" y="107" width="1" height="1"/><rect x="473" y="107" width="1" height="1"/><rect x="474" y="107" width="1" height="1"/><rect x="475" y="107" width="1" height="1"/><rect x="476" y="106" width="1" height="1"/><rect x="477" y="106" width="1" height="1"/><rect x="478" y="105" width="1" height="1"/><rect x="479" y="105" width="1" height="1"/><rect x="480" y="104" width="1" height="1"/><rect x="481" y="103" width="1" height="1"/><rect x="482" y="103" width="1" height="1"/><rect x="483" y="102" width="1" height="1"/><rect x="484" y="101" width="1" height="1"/><rect x="485" y="101" width="1" height="1"/><rect x="486" y="101" width="1" height="1"/><rect x="487" y="100" width="1" height="1"/><rect x="488" y="100" width="1" height="1"/><rect x="489" y="100" width="1" height="1"/><rect x="490" y="100" width="1" height="1"/><rect x="491" y="100" width="1" height="1"/><rect x="492" y="100" width="1" height="1"/><rect x="493" y="101" width="1" height="1"/><rect x="494" y="101" width="1" height="1"/><rect x="495" y="102" width="1" height="1"/><rect x="496" y="102" width="1" height="1"/><rect x="497" y="103" width="1" height="1"/><rect x="498" y="103" width="1" height="1"/><rect x="499" y="103" width="1" height="1"/><rect x="500" y="104" width="1" height="1"/><rect x="501" y="104" width="1" height="1"/><rect x="502" y="104" width="1" height="1"/><rect x="503" y="104" width="1" height="1"/><rect x="504" y="105" width="1" height="1"/><rect x="505" y="106" width="1" height="1"/><rect x="506" y="107" width="1" height="1"/><rect x="507" y="108" width="1" height="1"/><rect x="508" y="109" width="1" height="2"/><rect x="509" y="111" width="1" height="1"/><rect x="510" y="112" width="1" height="1"/><rect x="511" y="113" width="1" height="2"/><rect x="512" y="115" width="1" height="1"/><rect x="513" y="116" width="1" height="2"/><rect x="514" y="118" width="1" height="1"/><rect x="515" y="119" width="1" height="2"/><rect x="516" y="121" width="1" height="1"/><rect x="517" y="122" width="1" height="2"/><rect x="518" y="124" width="1" height="1"/><rect x="519" y="125" width="1" height="2"/><rect x="520" y="127" width="1" height="2"/><rect x="521" y="129" width="1" height="2"/><rect x="522" y="131" width="1" height="2"/><rect x="523" y="133" width="1" height="2"/><rect x="524" y="135" width="1" height="1"/><rect x="525" y="136" width="1" height="2"/><rect x="526" y="138" width="1" height="2"/><rect x="527" y="140" width="1" height="2"/><rect x="528" y="142" width="1" height="2"/><rect x="529" y="144" width="1" height="2"/><rect x="530" y="146" width="1" height="2"/><rect x="531" y="148" width="1" height="2"/><rect x="532" y="150" width="1" height="1"/><rect x="533" y="151" width="1" height="1"/><rect x="534" y="152" width="1" height="1"/><rect x="535" y="153" width="1" height="2"/><rect x="536" y="155" width="1" height="1"/><rect x="537" y="156" width="1" height="2"/><rect x="538" y="158" width="1" height="2"/><rect x="539" y="160" width="1" height="2"/><rect x="540" y="162" width="1" height="2"/><rect x="541" y="164" width="1" height="3"/><rect x="542" y="167" width="1" height="3"/><rect x="543" y="170" width="1" height="3"/><rect x="544" y="173" width="1" height="3"/><rect x="545" y="176" width="1" height="3"/><rect x="546" y="179" width="1" height="2"/><rect x="547" y="181" width="1" height="2"/><rect x="548" y="183" width="1" height="2"/><rect x="549" y="185" width="1" height="1"/><rect x="550" y="186" width="1" height="2"/><rect x="551" y="188" width="1" height="2"/><rect x="552" y="190" width="1" height="2"/><rect x="553" y="192" width="1" height="2"/><rect x="554" y="194" width="1" height="2"/><rect x="555" y="196" width="1" height="2"/><rect x="556" y="198" width="1" height="2"/><rect x="557" y="200" width="1" height="3"/><rect x="558" y="203" width="1" height="2"/><rect x="559" y="205" width="1" height="1"/><rect x="560" y="206" width="1" height="2"/><rect x="561" y="208" width="1" height="1"/><rect x="562" y="209" width="1" height="1"/><rect x="563" y="210" width="1" height="2"/><rect x="564" y="212" width="1" height="1"/><rect x="565" y="213" width="1" height="1"/><rect x="566" y="214" width="1" height="1"/><rect x="567" y="215" width="1" height="2"/><rect x="568" y="217" width="1" height="2"/><rect x="569" y="219" width="1" height="1"/><rect x="570" y="220" width="1" height="2"/><rect x="571" y="222" width="1" height="2"/><rect x="572" y="224" width="1" height="1"/><rect x="573" y="225" width="1" height="1"/><rect x="574" y="226" width="1" height="1"/><rect x="575" y="227" width="1" height="1"/><rect x="576" y="228" width="1" height="1"/><rect x="577" y="229" width="1" height="1"/><rect x="578" y="229" width="1" height="1"/><rect x="579" y="230" width="1" height="1"/><rect x="580" y="230" width="1" height="1"/><rect x="581" y="230" width="1" height="1"/><rect x="582" y="230" width="1" height="1"/><rect x="583" y="228" width="1" height="2"/><rect x="584" y="227" width="1" height="1"/><rect x="585" y="226" width="1" height="1"/><rect x="586" y="224" width="1" height="2"/><rect x="587" y="222" width="1" height="2"/><rect x="588" y="220" width="1" height="2"/><rect x="589" y="219" width="1" height="1"/><rect x="590" y="217" width="1" height="2"/><rect x="591" y="215" width="1" height="2"/><rect x="592" y="214" width="1" height="1"/><rect x="593" y="212" width="1" height="2"/><rect x="594" y="210" width="1" height="2"/><rect x="595" y="208" width="1" height="2"/><rect x="596" y="206" width="1" height="2"/><rect x="597" y="204" width="1" height="2"/><rect x="598" y="203" width="1" height="1"/><rect x="599" y="201" width="1" height="2"/><rect x="600" y="200" width="1" height="1"/><rect x="601" y="199" width="1" height="1"/><rect x="602" y="198" width="1" height="1"/><rect x="603" y="197" width="1" height="1"/><rect x="604" y="196" width="1" height="1"/><rect x="605" y="195" width="1" height="1"/><rect x="606" y="194" width="1" height="1"/><rect x="607" y="194" width="1" height="1"/><rect x="608" y="193" width="1" height="1"/><rect x="609" y="193" width="1" height="1"/><rect x="610" y="192" width="1" height="1"/><rect x="611" y="191" width="1" height="1"/><rect x="612" y="191" width="1" height="1"/><rect x="613" y="190" width="1" height="1"/><rect x="614" y="189" width="1" height="1"/><rect x="615" y="189" width="1" height="1"/><rect x="616" y="189" width="1" height="1"/><rect x="617" y="189" width="1" height="1"/><rect x="618" y="189" width="1" height="1"/><rect x="619" y="189" width="1" height="1"/><rect x="620" y="188" width="1" height="1"/><rect x="621" y="188" width="1" height="1"/><rect x="622" y="188" width="1" height="1"/><rect x="623" y="189" width="1" height="1"/><rect x="624" y="189" width="1" height="1"/><rect x="625" y="189" width="1" height="1"/><rect x="626" y="190" width="1" height="1"/><rect x="627" y="190" width="1" height="1"/><rect x="628" y="190" width="1" height="1"/><rect x="629" y="190" width="1" height="1"/><rect x="630" y="190" width="1" height="1"/><rect x="631" y="190" width="1" height="1"/><rect x="632" y="189" width="1" height="1"/><rect x="633" y="189" width="1" height="1"/><rect x="634" y="189" width="1" height="1"/><rect x="635" y="189" width="1" height="1"/><rect x="636" y="189" width="1" height="1"/><rect x="637" y="189" width="1" height="1"/><rect x="638" y="189" width="1" height="1"/><rect x="639" y="189" width="1" height="1"/><rect x="640" y="189" width="1" height="1"/><rect x="641" y="189" width="1" height="1"/><rect x="642" y="189" width="1" height="1"/><rect x="643" y="189" width="1" height="1"/><rect x="644" y="189" width="1" height="1"/><rect x="645" y="188" width="1" height="1"/><rect x="646" y="188" width="1" height="1"/><rect x="647" y="188" width="1" height="1"/><rect x="648" y="187" width="1" height="1"/><rect x="649" y="187" width="1" height="1"/><rect x="650" y="187" width="1" height="1"/><rect x="651" y="187" width="1" height="1"/><rect x="652" y="187" width="1" height="1"/><rect x="653" y="187" width="1" height="1"/><rect x="654" y="188" width="1" height="1"/><rect x="655" y="188" width="1" height="1"/><rect x="656" y="188" width="1" height="1"/><rect x="657" y="189" width="1" height="1"/><rect x="658" y="189" width="1" height="1"/><rect x="659" y="190" width="1" height="1"/><rect x="660" y="190" width="1" height="1"/><rect x="661" y="190" width="1" height="1"/><rect x="662" y="191" width="1" height="1"/><rect x="663" y="191" width="1" height="1"/><rect x="664" y="192" width="1" height="1"/><rect x="665" y="192" width="1" height="1"/><rect x="666" y="192" width="1" height="1"/><rect x="667" y="192" width="1" height="1"/><rect x="668" y="191" width="1" height="1"/><rect x="669" y="191" width="1" height="1"/><rect x="670" y="191" width="1" height="1"/><rect x="671" y="190" width="1" height="1"/><rect x="672" y="190" width="1" height="1"/><rect x="673" y="190" width="1" height="1"/><rect x="674" y="189" width="1" height="1"/><rect x="675" y="189" width="1" height="1"/><rect x="676" y="188" width="1" height="1"/><rect x="677" y="188" width="1" height="1"/><rect x="678" y="187" width="1" height="1"/><rect x="679" y="187" width="1" height="1"/><rect x="680" y="187" width="1" height="1"/><rect x="681" y="186" width="1" height="1"/><rect x="682" y="186" width="1" height="1"/><rect x="683" y="185" width="1" height="1"/><rect x="684" y="185" width="1" height="1"/><rect x="685" y="185" width="1" height="1"/><rect x="686" y="184" width="1" height="1"/><rect x="687" y="184" width="1" height="1"/><rect x="688" y="184" width="1" height="1"/><rect x="689" y="184" width="1" height="1"/><rect x="690" y="183" width="1" height="1"/><rect x="691" y="183" width="1" height="1"/><rect x="692" y="183" width="1" height="1"/><rect x="693" y="182" width="1" height="1"/><rect x="694" y="182" width="1" height="1"/><rect x="695" y="182" width="1" height="1"/><rect x="696" y="182" width="1" height="1"/><rect x="697" y="182" width="1" height="1"/><rect x="698" y="182" width="1" height="1"/><rect x="699" y="182" width="1" height="1"/><rect x="700" y="183" width="1" height="1"/><rect x="701" y="183" width="1" height="1"/><rect x="702" y="184" width="1" height="1"/><rect x="703" y="184" width="1" height="1"/><rect x="704" y="185" width="1" height="1"/><rect x="705" y="185" width="1" height="1"/><rect x="706" y="186" width="1" height="1"/><rect x="707" y="186" width="1" height="1"/><rect x="708" y="187" width="1" height="1"/><rect x="709" y="188" width="1" height="1"/><rect x="710" y="189" width="1" height="1"/><rect x="711" y="190" width="1" height="1"/><rect x="712" y="191" width="1" height="1"/><rect x="713" y="192" width="1" height="1"/><rect x="714" y="193" width="1" height="1"/><rect x="715" y="194" width="1" height="1"/><rect x="716" y="195" width="1" height="1"/><rect x="717" y="196" width="1" height="1"/><rect x="718" y="197" width="1" height="1"/><rect x="719" y="198" width="1" height="1"/><rect x="720" y="199" width="1" height="1"/><rect x="721" y="200" width="1" height="1"/><rect x="722" y="201" width="1" height="1"/><rect x="723" y="202" width="1" height="1"/><rect x="724" y="203" width="1" height="1"/><rect x="725" y="204" width="1" height="1"/><rect x="726" y="204" width="1" height="1"/><rect x="727" y="204" width="1" height="1"/><rect x="728" y="204" width="1" height="1"/><rect x="729" y="204" width="1" height="1"/><rect x="730" y="204" width="1" height="1"/><rect x="731" y="204" width="1" height="1"/><rect x="732" y="204" width="1" height="1"/><rect x="733" y="205" width="1" height="1"/><rect x="734" y="205" width="1" height="1"/><rect x="735" y="205" width="1" height="1"/><rect x="736" y="205" width="1" height="1"/><rect x="737" y="204" width="1" height="1"/><rect x="738" y="204" width="1" height="1"/><rect x="739" y="204" width="1" height="1"/><rect x="740" y="204" width="1" height="1"/><rect x="741" y="204" width="1" height="1"/><rect x="742" y="204" width="1" height="1"/><rect x="743" y="204" width="1" height="1"/><rect x="744" y="204" width="1" height="1"/><rect x="745" y="203" width="1" height="1"/><rect x="746" y="203" width="1" height="1"/><rect x="747" y="203" width="1" height="1"/><rect x="748" y="202" width="1" height="1"/><rect x="749" y="202" width="1" height="1"/><rect x="750" y="201" width="1" height="1"/><rect x="751" y="201" width="1" height="1"/><rect x="752" y="201" width="1" height="1"/><rect x="753" y="200" width="1" height="1"/><rect x="754" y="200" width="1" height="1"/><rect x="755" y="200" width="1" height="1"/><rect x="756" y="199" width="1" height="1"/><rect x="757" y="199" width="1" height="1"/><rect x="758" y="199" width="1" height="1"/><rect x="759" y="199" width="1" height="1"/><rect x="760" y="198" width="1" height="1"/><rect x="761" y="198" width="1" height="1"/><rect x="762" y="198" width="1" height="1"/><rect x="763" y="198" width="1" height="1"/><rect x="764" y="197" width="1" height="1"/><rect x="765" y="197" width="1" height="1"/><rect x="766" y="197" width="1" height="1"/><rect x="767" y="196" width="1" height="1"/><rect x="768" y="195" width="1" height="1"/><rect x="769" y="195" width="1" height="1"/><rect x="770" y="194" width="1" height="1"/><rect x="771" y="194" width="1" height="1"/><rect x="772" y="193" width="1" height="1"/><rect x="773" y="192" width="1" height="1"/><rect x="774" y="192" width="1" height="1"/><rect x="775" y="191" width="1" height="1"/><rect x="776" y="191" width="1" height="1"/><rect x="777" y="191" width="1" height="1"/><rect x="778" y="190" width="1" height="1"/><rect x="779" y="190" width="1" height="1"/><rect x="780" y="189" width="1" height="1"/><rect x="781" y="189" width="1" height="1"/><rect x="782" y="188" width="1" height="1"/><rect x="783" y="188" width="1" height="1"/><rect x="784" y="188" width="1" height="1"/><rect x="785" y="187" width="1" height="1"/><rect x="786" y="187" width="1" height="1"/><rect x="787" y="186" width="1" height="1"/><rect x="788" y="186" width="1" height="1"/><rect x="789" y="186" width="1" height="1"/><rect x="790" y="185" width="1" height="1"/><rect x="791" y="185" width="1" height="1"/><rect x="792" y="185" width="1" height="1"/><rect x="793" y="185" width="1" height="1"/><rect x="794" y="185" width="1" height="1"/><rect x="795" y="185" width="1" height="1"/><rect x="796" y="186" width="1" height="1"/><rect x="797" y="186" width="1" height="1"/><rect x="798" y="187" width="1" height="1"/><rect x="799" y="188" width="1" height="1"/><rect x="800" y="188" width="1" height="1"/><rect x="801" y="189" width="1" height="1"/><rect x="802" y="189" width="1" height="1"/><rect x="803" y="190" width="1" height="1"/><rect x="804" y="190" width="1" height="1"/><rect x="805" y="190" width="1" height="1"/><rect x="806" y="190" width="1" height="1"/><rect x="807" y="190" width="1" height="1"/><rect x="808" y="191" width="1" height="1"/><rect x="809" y="191" width="1" height="1"/><rect x="810" y="191" width="1" height="1"/><rect x="811" y="191" width="1" height="1"/><rect x="812" y="191" width="1" height="1"/><rect x="813" y="191" width="1" height="1"/><rect x="814" y="191" width="1" height="1"/><rect x="815" y="191" width="1" height="1"/><rect x="816" y="191" width="1" height="1"/><rect x="817" y="191" width="1" height="1"/><rect x="818" y="190" width="1" height="1"/><rect x="819" y="190" width="1" height="1"/><rect x="820" y="190" width="1" height="1"/><rect x="821" y="190" width="1" height="1"/><rect x="822" y="190" width="1" height="1"/><rect x="823" y="190" width="1" height="1"/><rect x="824" y="190" width="1" height="1"/><rect x="825" y="190" width="1" height="1"/><rect x="826" y="190" width="1" height="1"/><rect x="827" y="190" width="1" height="1"/><rect x="828" y="190" width="1" height="1"/><rect x="829" y="190" width="1" height="1"/><rect x="830" y="190" width="1" height="1"/><rect x="831" y="190" width="1" height="1"/><rect x="832" y="190" width="1" height="1"/><rect x="833" y="190" width="1" height="1"/><rect x="834" y="190" width="1" height="1"/><rect x="835" y="191" width="1" height="1"/><rect x="836" y="191" width="1" height="1"/><rect x="837" y="192" width="1" height="1"/><rect x="838" y="192" width="1" height="1"/><rect x="839" y="193" width="1" height="1"/><rect x="840" y="194" width="1" height="1"/><rect x="841" y="194" width="1" height="1"/><rect x="842" y="195" width="1" height="1"/><rect x="843" y="196" width="1" height="1"/><rect x="844" y="196" width="1" height="1"/><rect x="845" y="197" width="1" height="1"/><rect x="846" y="197" width="1" height="1"/><rect x="847" y="197" width="1" height="1"/><rect x="848" y="198" width="1" height="1"/><rect x="849" y="198" width="1" height="1"/><rect x="850" y="199" width="1" height="1"/><rect x="851" y="199" width="1" height="1"/><rect x="852" y="200" width="1" height="1"/><rect x="853" y="201" width="1" height="1"/><rect x="854" y="201" width="1" height="1"/><rect x="855" y="202" width="1" height="1"/><rect x="856" y="203" width="1" height="1"/><rect x="857" y="203" width="1" height="1"/><rect x="858" y="204" width="1" height="1"/><rect x="859" y="205" width="1" height="1"/><rect x="860" y="206" width="1" height="1"/><rect x="861" y="207" width="1" height="1"/><rect x="862" y="208" width="1" height="1"/><rect x="863" y="209" width="1" height="1"/><rect x="864" y="209" width="1" height="1"/><rect x="865" y="210" width="1" height="1"/><rect x="866" y="210" width="1" height="1"/><rect x="867" y="210" width="1" height="1"/><rect x="868" y="210" width="1" height="1"/><rect x="869" y="211" width="1" height="1"/><rect x="870" y="211" width="1" height="1"/><rect x="871" y="211" width="1" height="1"/><rect x="872" y="211" width="1" height="1"/><rect x="873" y="212" width="1" height="1"/><rect x="874" y="212" width="1" height="1"/><rect x="875" y="212" width="1" height="1"/><rect x="876" y="212" width="1" height="1"/><rect x="877" y="212" width="1" height="1"/><rect x="878" y="212" width="1" height="1"/><rect x="879" y="212" width="1" height="1"/><rect x="880" y="212" width="1" height="1"/><rect x="881" y="212" width="1" height="1"/><rect x="882" y="212" width="1" height="1"/><rect x="883" y="212" width="1" height="1"/><rect x="884" y="212" width="1" height="1"/><rect x="885" y="212" width="1" height="1"/><rect x="886" y="212" width="1" height="1"/><rect x="887" y="212" width="1" height="1"/><rect x="888" y="212" width="1" height="1"/><rect x="889" y="211" width="1" height="1"/><rect x="890" y="211" width="1" height="1"/><rect x="891" y="211" width="1" height="1"/><rect x="892" y="211" width="1" height="1"/><rect x="893" y="211" width="1" height="1"/><rect x="894" y="211" width="1" height="1"/><rect x="895" y="211" width="1" height="1"/><rect x="896" y="211" width="1" height="1"/><rect x="897" y="211" width="1" height="1"/><rect x="898" y="211" width="1" height="1"/><rect x="899" y="211" width="1" height="1"/><rect x="900" y="211" width="1" height="1"/><rect x="901" y="210" width="1" height="1"/><rect x="902" y="210" width="1" height="1"/><rect x="903" y="210" width="1" height="1"/><rect x="904" y="210" width="1" height="1"/><rect x="905" y="210" width="1" height="1"/><rect x="906" y="210" width="1" height="1"/><rect x="907" y="210" width="1" height="1"/><rect x="908" y="209" width="1" height="1"/><rect x="909" y="209" width="1" height="1"/><rect x="910" y="209" width="1" height="1"/><rect x="911" y="209" width="1" height="1"/><rect x="912" y="209" width="1" height="1"/><rect x="913" y="209" width="1" height="1"/><rect x="914" y="209" width="1" height="1"/><rect x="915" y="209" width="1" height="1"/><rect x="916" y="210" width="1" height="1"/><rect x="917" y="210" width="1" height="1"/><rect x="918" y="210" width="1" height="1"/><rect x="919" y="210" width="1" height="1"/><rect x="920" y="210" width="1" height="1"/><rect x="921" y="211" width="1" height="1"/><rect x="922" y="211" width="1" height="1"/><rect x="923" y="211" width="1" height="1"/><rect x="924" y="211" width="1" height="1"/><rect x="925" y="211" width="1" height="1"/><rect x="926" y="211" width="1" height="1"/><rect x="927" y="212" width="1" height="1"/><rect x="928" y="212" width="1" height="1"/><rect x="929" y="212" width="1" height="1"/><rect x="930" y="213" width="1" height="1"/><rect x="931" y="213" width="1" height="1"/><rect x="932" y="214" width="1" height="1"/><rect x="933" y="214" width="1" height="1"/><rect x="934" y="214" width="1" height="1"/><rect x="935" y="215" width="1" height="1"/><rect x="936" y="215" width="1" height="1"/><rect x="937" y="215" width="1" height="1"/><rect x="938" y="215" width="1" height="1"/><rect x="939" y="215" width="1" height="1"/><rect x="940" y="215" width="1" height="1"/><rect x="941" y="215" width="1" height="1"/><rect x="942" y="215" width="1" height="1"/><rect x="943" y="215" width="1" height="1"/><rect x="944" y="215" width="1" height="1"/><rect x="945" y="216" width="1" height="1"/><rect x="946" y="216" width="1" height="1"/><rect x="947" y="216" width="1" height="1"/><rect x="948" y="217" width="1" height="1"/><rect x="949" y="217" width="1" height="1"/><rect x="950" y="217" width="1" height="1"/><rect x="951" y="218" width="1" height="1"/><rect x="952" y="218" width="1" height="1"/><rect x="953" y="218" width="1" height="1"/><rect x="954" y="219" width="1" height="1"/><rect x="955" y="219" width="1" height="1"/><rect x="956" y="220" width="1" height="1"/><rect x="957" y="220" width="1" height="1"/><rect x="958" y="220" width="1" height="1"/><rect x="959" y="221" width="1" height="1"/><rect x="960" y="221" width="1" height="1"/><rect x="961" y="221" width="1" height="1"/><rect x="962" y="222" width="1" height="1"/><rect x="963" y="222" width="1" height="1"/><rect x="964" y="223" width="1" height="1"/><rect x="965" y="223" width="1" height="1"/><rect x="966" y="223" width="1" height="1"/><rect x="967" y="224" width="1" height="1"/><rect x="968" y="224" width="1" height="1"/><rect x="969" y="225" width="1" height="1"/><rect x="970" y="225" width="1" height="1"/><rect x="971" y="226" width="1" height="1"/><rect x="972" y="226" width="1" height="1"/><rect x="973" y="227" width="1" height="1"/><rect x="974" y="227" width="1" height="1"/><rect x="975" y="228" width="1" height="1"/><rect x="976" y="228" width="1" height="1"/><rect x="977" y="229" width="1" height="1"/><rect x="978" y="229" width="1" height="1"/><rect x="979" y="230" width="1" height="1"/><rect x="980" y="231" width="1" height="1"/><rect x="981" y="231" width="1" height="1"/><rect x="982" y="232" width="1" height="1"/><rect x="983" y="232" width="1" height="1"/><rect x="984" y="232" width="1" height="1"/><rect x="985" y="233" width="1" height="1"/><rect x="986" y="234" width="1" height="1"/><rect x="987" y="234" width="1" height="1"/><rect x="988" y="235" width="1" height="1"/><rect x="989" y="235" width="1" height="1"/><rect x="990" y="236" width="1" height="1"/><rect x="991" y="236" width="1" height="1"/><rect x="992" y="237" width="1" height="1"/><rect x="993" y="238" width="1" height="1"/><rect x="994" y="238" width="1" height="1"/><rect x="995" y="239" width="1" height="1"/><rect x="996" y="240" width="1" height="1"/><rect x="997" y="240" width="1" height="1"/><rect x="998" y="241" width="1" height="1"/><rect x="999" y="241" width="1" height="1"/><rect x="1000" y="242" width="1" height="1"/><rect x="1001" y="242" width="1" height="1"/><rect x="1002" y="243" width="1" height="1"/><rect x="1003" y="243" width="1" height="1"/><rect x="1004" y="243" width="1" height="1"/><rect x="1005" y="244" width="1" height="1"/><rect x="1006" y="244" width="1" height="1"/><rect x="1007" y="244" width="1" height="1"/><rect x="1008" y="244" width="1" height="1"/><rect x="1009" y="244" width="1" height="1"/><rect x="1010" y="244" width="1" height="1"/><rect x="1011" y="244" width="1" height="1"/><rect x="1012" y="243" width="1" height="1"/><rect x="1013" y="243" width="1" height="1"/><rect x="1014" y="243" width="1" height="1"/><rect x="1015" y="242" width="1" height="1"/><rect x="1016" y="242" width="1" height="1"/></g><g shape-rendering="crispEdges"><rect x="1" y="30" width="1025" height="1" fill="#000"/><rect x="1" y="544" width="1025" height="1" fill="#000"/><rect x="1" y="30" width="1" height="515" fill="#000"/><rect x="1025" y="30" width="1" height="515" fill="#000"/><rect x="0" y="539" width="1" height="1" fill="#000"/><rect x="1026" y="539" width="1" height="1" fill="#000"/><rect x="0" y="530" width="1" height="1" fill="#000"/><rect x="1026" y="530" width="2" height="1" fill="#000"/><rect x="0" y="520" width="1" height="1" fill="#000"/><rect x="1026" y="520" width="1" height="1" fill="#000"/><rect x="0" y="511" width="1" height="1" fill="#000"/><rect x="1026" y="511" width="1" height="1" fill="#000"/><rect x="0" y="501" width="1" height="1" fill="#000"/><rect x="1026" y="501" width="1" height="1" fill="#000"/><rect x="0" y="492" width="1" height="1" fill="#000"/><rect x="1026" y="492" width="1" height="1" fill="#000"/><rect x="0" y="483" width="1" height="1" fill="#000"/><rect x="1026" y="483" width="2" height="1" fill="#000"/><rect x="0" y="473" width="1" height="1" fill="#000"/><rect x="1026" y="473" width="1" height="1" fill="#000"/><rect x="0" y="464" width="1" height="1" fill="#000"/><rect x="1026" y="464" width="1" height="1" fill="#000"/><rect x="0" y="454" width="1" height="1" fill="#000"/><rect x="1026" y="454" width="1" height="1" fill="#000"/><rect x="0" y="445" width="1" height="1" fill="#000"/><rect x="1026" y="445" width="1" height="1" fill="#000"/><rect x="0" y="436" width="1" height="1" fill="#000"/><rect x="1026" y="436" width="2" height="1" fill="#000"/><rect x="0" y="426" width="1" height="1" fill="#000"/><rect x="1026" y="426" width="1" height="1" fill="#000"/><rect x="0" y="417" width="1" height="1" fill="#000"/><rect x="1026" y="417" width="1" height="1" fill="#000"/><rect x="0" y="407" width="1" height="1" fill="#000"/><rect x="1026" y="407" width="1" height="1" fill="#000"/><rect x="0" y="398" width="1" height="1" fill="#000"/><rect x="1026" y="398" width="1" height="1" fill="#000"/><rect x="0" y="389" width="1" height="1" fill="#000"/><rect x="1026" y="389" width="2" height="1" fill="#000"/><rect x="0" y="379" width="1" height="1" fill="#000"/><rect x="1026" y="379" width="1" height="1" fill="#000"/><rect x="0" y="370" width="1" height="1" fill="#000"/><rect x="1026" y="370" width="1" height="1" fill="#000"/><rect x="0" y="360" width="1" height="1" fill="#000"/><rect x="1026" y="360" width="1" height="1" fill="#000"/><rect x="0" y="351" width="1" height="1" fill="#000"/><rect x="1026" y="351" width="1" height="1" fill="#000"/><rect x="0" y="342" width="1" height="1" fill="#000"/><rect x="1026" y="342" width="2" height="1" fill="#000"/><rect x="0" y="331" width="1" height="1" fill="#000"/><rect x="1026" y="331" width="1" height="1" fill="#000"/><rect x="0" y="322" width="1" height="1" fill="#000"/><rect x="1026" y="322" width="1" height="1" fill="#000"/><rect x="0" y="312" width="1" height="1" fill="#000"/><rect x="1026" y="312" width="1" height="1" fill="#000"/><rect x="0" y="303" width="1" height="1" fill="#000"/><rect x="1026" y="303" width="1" height="1" fill="#000"/><rect x="0" y="294" width="1" height="1" fill="#000"/><rect x="1026" y="294" width="2" height="1" fill="#000"/><rect x="0" y="284" width="1" height="1" fill="#000"/><rect x="1026" y="284" width="1" height="1" fill="#000"/><rect x="0" y="275" width="1" height="1" fill="#000"/><rect x="1026" y="275" width="1" height="1" fill="#000"/><rect x="0" y="265" width="1" height="1" fill="#000"/><rect x="1026" y="265" width="1" height="1" fill="#000"/><rect x="0" y="256" width="1" height="1" fill="#000"/><rect x="1026" y="256" width="1" height="1" fill="#000"/><rect x="0" y="247" width="1" height="1" fill="#000"/><rect x="1026" y="247" width="2" height="1" fill="#000"/><rect x="0" y="237" width="1" height="1" fill="#000"/><rect x="1026" y="237" width="1" height="1" fill="#000"/><rect x="0" y="228" width="1" height="1" fill="#000"/><rect x="1026" y="228" width="1" height="1" fill="#000"/><rect x="0" y="218" width="1" height="1" fill="#000"/><rect x="1026" y="218" width="1" height="1" fill="#000"/><rect x="0" y="209" width="1" height="1" fill="#000"/><rect x="1026" y="209" width="1" height="1" fill="#000"/><rect x="0" y="200" width="1" height="1" fill="#000"/><rect x="1026" y="200" width="2" height="1" fill="#000"/><rect x="0" y="190" width="1" height="1" fill="#000"/><rect x="1026" y="190" width="1" height="1" fill="#000"/><rect x="0" y="181" width="1" height="1" fill="#000"/><rect x="1026" y="181" width="1" height="1" fill="#000"/><rect x="0" y="171" width="1" height="1" fill="#000"/><rect x="1026" y="171" width="1" height="1" fill="#000"/><rect x="0" y="162" width="1" height="1" fill="#000"/><rect x="1026" y="162" width="1" height="1" fill="#000"/><rect x="0" y="153" width="1" height="1" fill="#000"/><rect x="1026" y="153" width="2" height="1" fill="#000"/><rect x="0" y="142" width="1" height="1" fill="#000"/><rect x="1026" y="142" width="1" height="1" fill="#000"/><rect x="0" y="133" width="1" height="1" fill="#000"/><rect x="1026" y="133" width="1" height="1" fill="#000"/><rect x="0" y="123" width="1" height="1" fill="#000"/><rect x="1026" y="123" width="1" height="1" fill="#000"/><rect x="0" y="114" width="1" height="1" fill="#000"/><rect x="1026" y="114" width="1" height="1" fill="#000"/><rect x="0" y="105" width="1" height="1" fill="#000"/><rect x="1026" y="105" width="2" height="1" fill="#000"/><rect x="0" y="95" width="1" height="1" fill="#000"/><rect x="1026" y="95" width="1" height="1" fill="#000"/><rect x="0" y="86" width="1" height="1" fill="#000"/><rect x="1026" y="86" width="1" height="1" fill="#000"/><rect x="0" y="76" width="1" height="1" fill="#000"/><rect x="1026" y="76" width="1" height="1" fill="#000"/><rect x="0" y="67" width="1" height="1" fill="#000"/><rect x="1026" y="67" width="1" height="1" fill="#000"/><rect x="0" y="58" width="1" height="1" fill="#000"/><rect x="1026" y="58" width="2" height="1" fill="#000"/><rect x="0" y="48" width="1" height="1" fill="#000"/><rect x="1026" y="48" width="1" height="1" fill="#000"/><rect x="0" y="39" width="1" height="1" fill="#000"/><rect x="1026" y="39" width="1" height="1" fill="#000"/><rect x="9" y="545" width="1" height="4" fill="#000"/><rect x="92" y="545" width="1" height="4" fill="#000"/><rect x="195" y="545" width="1" height="4" fill="#000"/><rect x="295" y="545" width="1" height="4" fill="#000"/><rect x="396" y="545" width="1" height="4" fill="#000"/><rect x="496" y="545" width="1" height="4" fill="#000"/><rect x="597" y="545" width="1" height="4" fill="#000"/><rect x="697" y="545" width="1" height="4" fill="#000"/><rect x="800" y="545" width="1" height="4" fill="#000"/><rect x="900" y="545" width="1" height="4" fill="#000"/><rect x="1001" y="545" width="1" height="4" fill="#000"/></g><text x="1030.5" y="535" font-size="12" font-family="DejaVu Sans, Liberation Sans, sans-serif" fill="#000">75</text><text x="1030.5" y="488" font-size="12" font-family="DejaVu Sans, Liberation Sans, sans-serif" fill="#000">80</text><text x="1030.5" y="441" font-size="12" font-family="DejaVu Sans, Liberation Sans, sans-serif" fill="#000">85</text><text x="1030.5" y="394" font-size="12" font-family="DejaVu Sans, Liberation Sans, sans-serif" fill="#000">90</text><text x="1030.5" y="347" font-size="12" font-family="DejaVu Sans, Liberation Sans, sans-serif" fill="#000">95</text><text x="1030.5" y="299" font-size="12" font-family="DejaVu Sans, Liberation Sans, sans-serif" fill="#000">100</text><text x="1030.5" y="252" font-size="12" font-family="DejaVu Sans, Liberation Sans, sans-serif" fill="#000">105</text><text x="1030.5" y="205" font-size="12" font-family="DejaVu Sans, Liberation Sans, sans-serif" fill="#000">110</text><text x="1030.5" y="158" font-size="12" font-family="DejaVu Sans, Liberation Sans, sans-serif" fill="#000">115</text><text x="1030.5" y="110" font-size="12" font-family="DejaVu Sans, Liberation Sans, sans-serif" fill="#000">120</text><text x="1030.5" y="63" font-size="12" font-family="DejaVu Sans, Liberation Sans, sans-serif" fill="#000">125</text><text x="94.1" y="563" font-size="12" text-anchor="middle" font-family="DejaVu Sans, Liberation Sans, sans-serif" fill="#000">2012</text><text x="197.1" y="563" font-size="12" text-anchor="middle" font-family="DejaVu Sans, Liberation Sans, sans-serif" fill="#000">2013</text><text x="297.1" y="563" font-size="12" text-anchor="middle" font-family="DejaVu Sans, Liberation Sans, sans-serif" fill="#000">2014</text><text x="398.1" y="563" font-size="12" text-anchor="middle" font-family="DejaVu Sans, Liberation Sans, sans-serif" fill="#000">2015</text><text x="498.1" y="563" font-size="12" text-anchor="middle" font-family="DejaVu Sans, Liberation Sans, sans-serif" fill="#000">2016</text><text x="599.1" y="563" font-size="12" text-anchor="middle" font-family="DejaVu Sans, Liberation Sans, sans-serif" fill="#000">2017</text><text x="699.1" y="563" font-size="12" text-anchor="middle" font-family="DejaVu Sans, Liberation Sans, sans-serif" fill="#000">2018</text><text x="802.1" y="563" font-size="12" text-anchor="middle" font-family="DejaVu Sans, Liberation Sans, sans-serif" fill="#000">2019</text><text x="902.1" y="563" font-size="12" text-anchor="middle" font-family="DejaVu Sans, Liberation Sans, sans-serif" fill="#000">2020</text><text x="1003.1" y="563" font-size="12" text-anchor="middle" font-family="DejaVu Sans, Liberation Sans, sans-serif" fill="#000">2021</text><text x="10" y="44.5" font-size="14" font-family="DejaVu Sans, Liberation Sans, sans-serif" fill="#0000ff">Weekly</text><text x="10" y="64.5" font-size="14" font-family="DejaVu Sans, Liberation Sans, sans-serif" fill="#a51c1c">EMA 200</text><text x="10.1" y="20.5" font-size="16" letter-spacing="0.25" font-family="DejaVu Sans, Liberation Sans, sans-serif" fill="#000">Japanese</text><text x="90.1" y="20.5" font-size="16" letter-spacing="1.0" font-family="DejaVu Sans, Liberation Sans, sans-serif" fill="#000">yen</text><text x="125.9" y="20.5" font-size="16" letter-spacing="0.6" font-family="DejaVu Sans, Liberation Sans, sans-serif" fill="#000">Spot</text><text x="168.8" y="20.5" font-size="16" letter-spacing="1.0" font-family="DejaVu Sans, Liberation Sans, sans-serif" fill="#000">(JPY</text><text x="207.2" y="20.5" font-size="16" letter-spacing="0.75" font-family="DejaVu Sans, Liberation Sans, sans-serif" fill="#000">CURNCY)</text><text x="290.6" y="20.5" font-size="16" letter-spacing="0.84" font-family="DejaVu Sans, Liberation Sans, sans-serif" fill="#000">107.98</text><text x="356.1" y="20.5" font-size="16" letter-spacing="0.97" font-family="DejaVu Sans, Liberation Sans, sans-serif" fill="#0000ff">1.41</text><text x="1075.5" y="20" font-size="14.5" letter-spacing="0.62" text-anchor="end" font-family="DejaVu Sans, Liberation Sans, sans-serif" fill="#000">2021-03-04</text><text x="0" y="590.5" font-size="15" font-family="DejaVu Sans, Liberation Sans, sans-serif" fill="#0000ff">www.fullertreacymoney.com</text><text x="1075.7" y="589.5" font-size="12" letter-spacing="0.22" text-anchor="end" font-family="DejaVu Sans, Liberation Sans, sans-serif" fill="#999999">This website is © 2008-2021 Fuller Treacy Money plc. All rights reserved</text></svg>
</body></html>
